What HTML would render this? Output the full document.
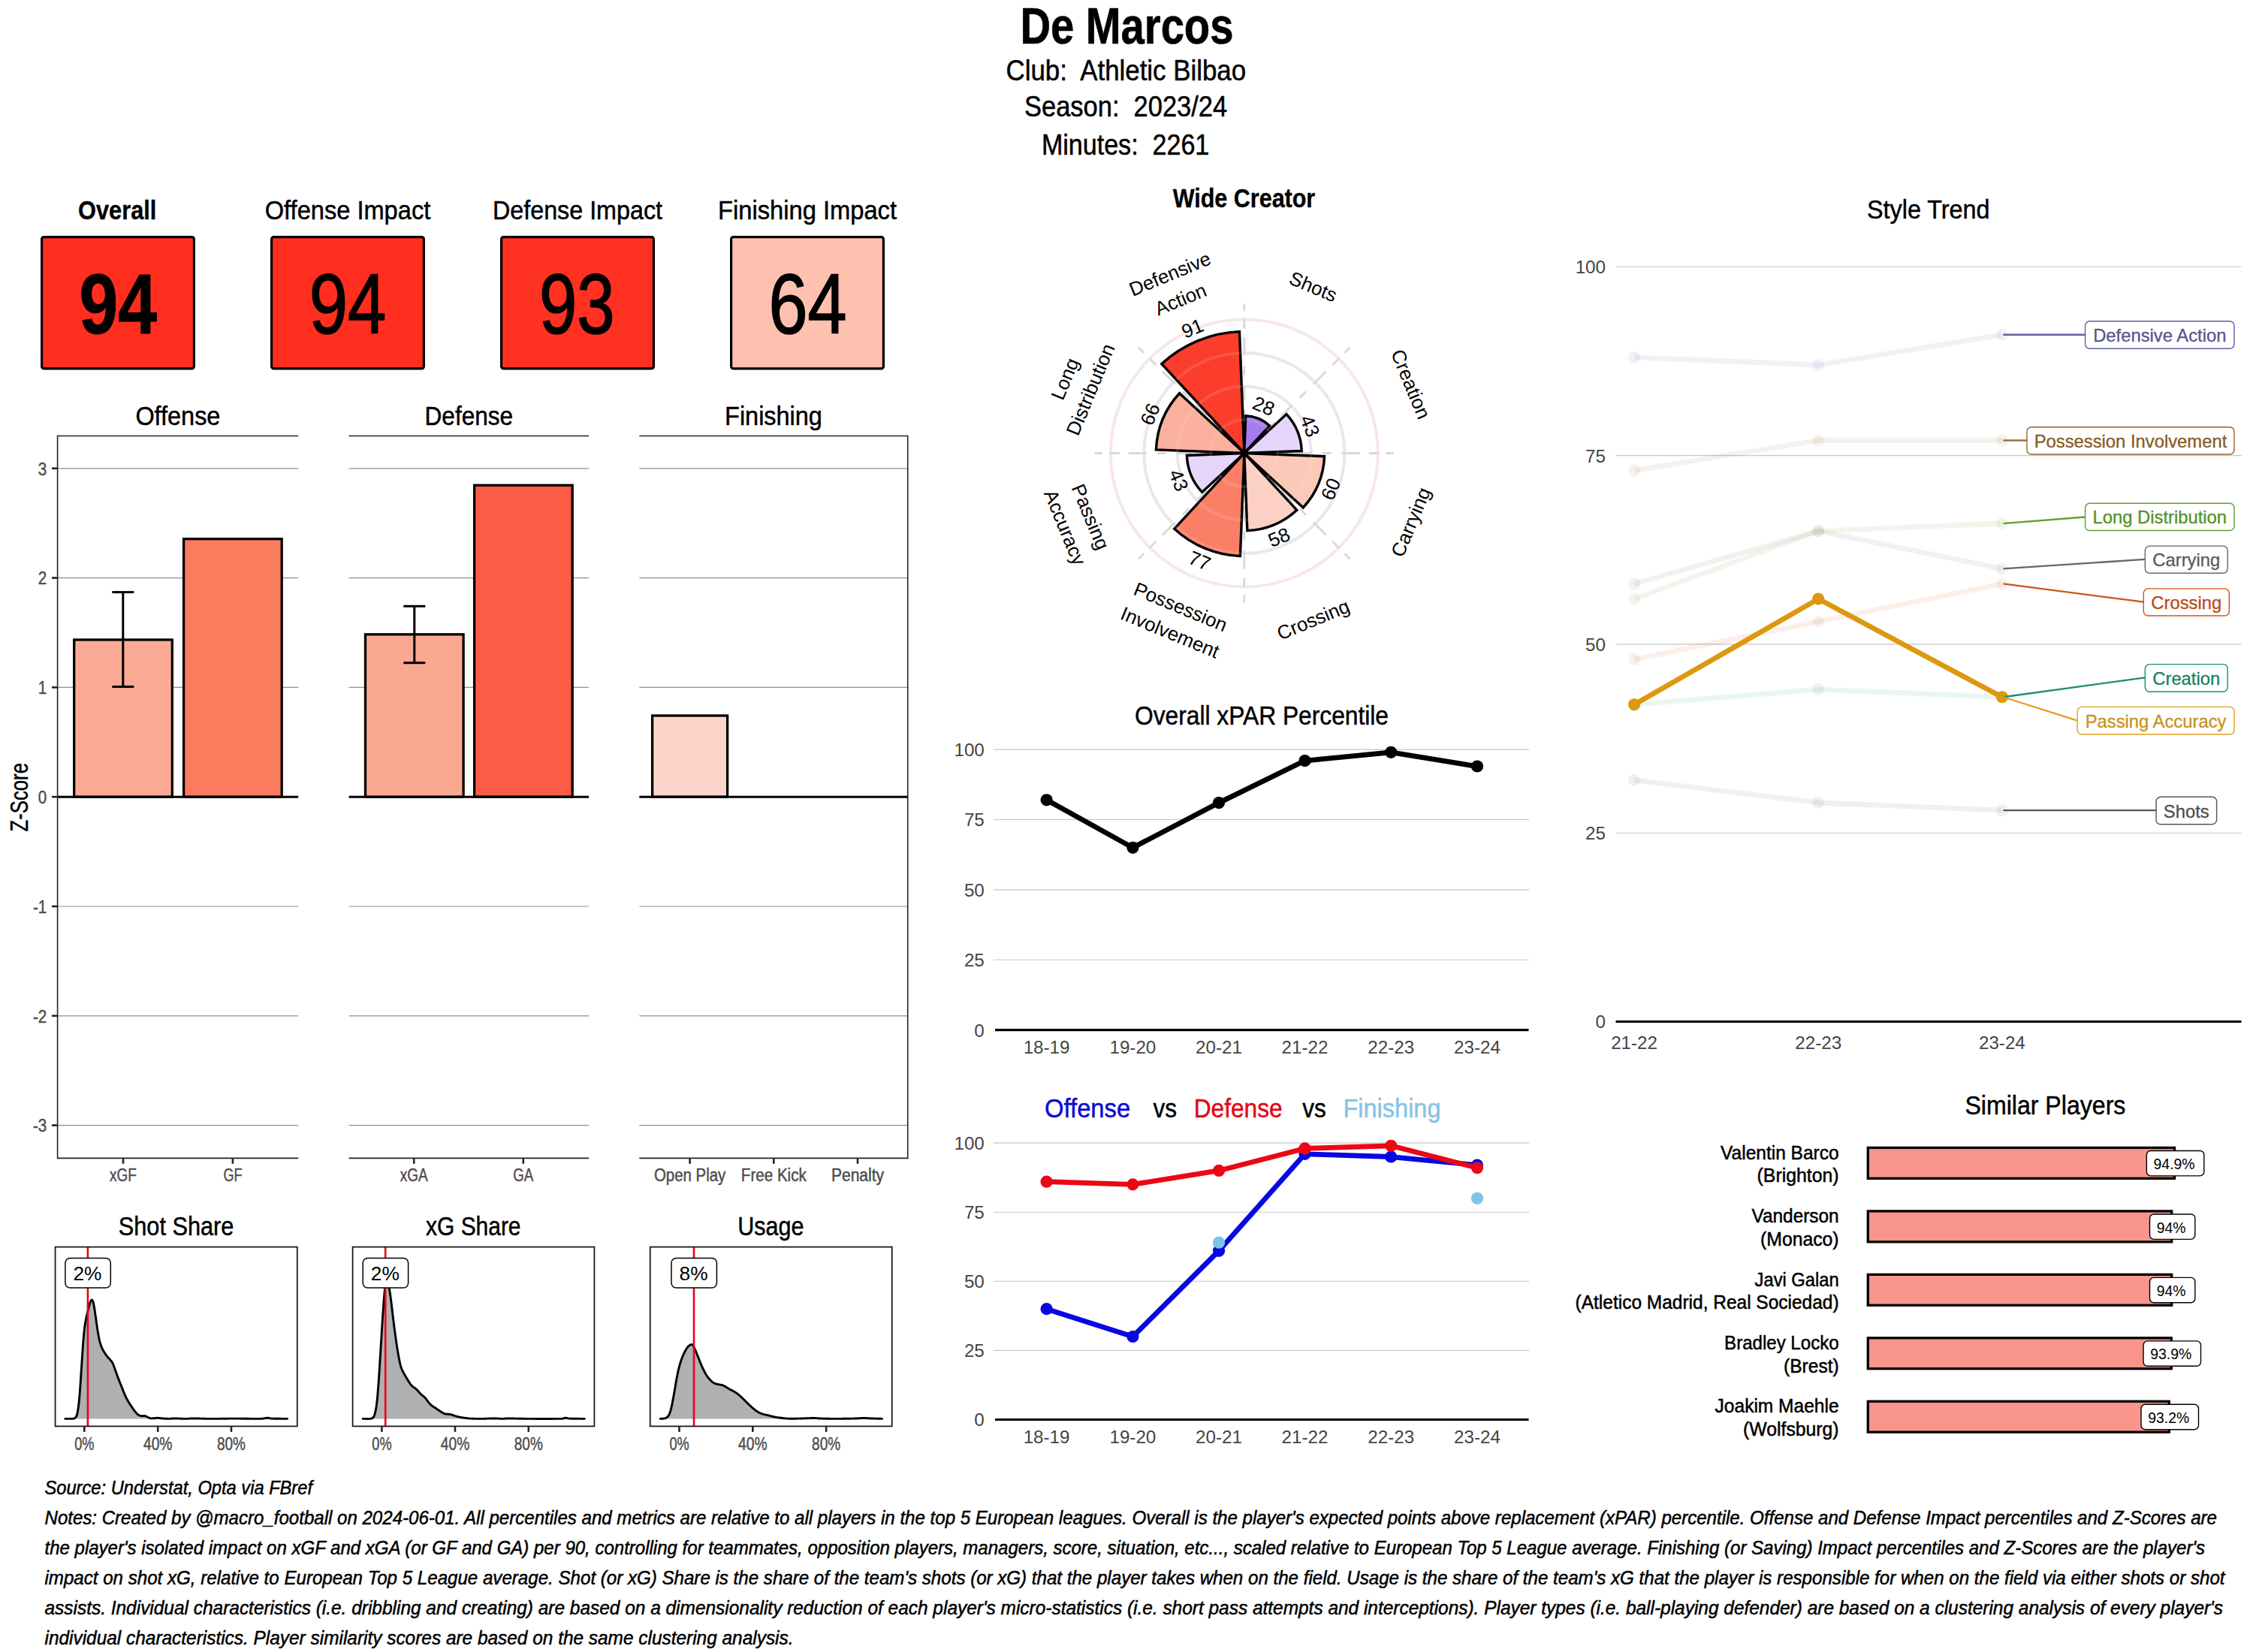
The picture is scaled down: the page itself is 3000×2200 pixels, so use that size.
<!DOCTYPE html>
<html><head><meta charset="utf-8"><title>De Marcos</title>
<style>html,body{margin:0;padding:0;background:#fff;overflow:hidden}svg{display:block}text{font-family:"Liberation Sans",sans-serif;white-space:pre}</style></head><body>
<svg width="3000" height="2200" viewBox="0 0 3000 2200" xml:space="preserve">
<rect width="3000" height="2200" fill="#fff"/>
<text x="1500.4" y="57.7" font-size="68" text-anchor="middle" font-weight="bold" textLength="284" lengthAdjust="spacingAndGlyphs" stroke="#000" stroke-width="0.68">De Marcos</text>
<text x="1499.3" y="106.5" font-size="38.2" text-anchor="middle" textLength="319.5" lengthAdjust="spacingAndGlyphs" stroke="#000" stroke-width="0.53">Club:  Athletic Bilbao</text>
<text x="1499.1" y="154.8" font-size="38.2" text-anchor="middle" textLength="270" lengthAdjust="spacingAndGlyphs" stroke="#000" stroke-width="0.53">Season:  2023/24</text>
<text x="1498.6" y="205.6" font-size="38.2" text-anchor="middle" textLength="223.4" lengthAdjust="spacingAndGlyphs" stroke="#000" stroke-width="0.53">Minutes:  2261</text>
<text x="156.2" y="292.1" font-size="35.8" text-anchor="middle" font-weight="bold" textLength="104.3" lengthAdjust="spacingAndGlyphs" stroke="#000" stroke-width="0.36">Overall</text>
<rect x="55.6" y="315.6" width="202.8" height="175.3" fill="#FF2E1E" stroke="#000" stroke-width="3.2" rx="3" />
<text x="157.3" y="443.7" font-size="114" text-anchor="middle" font-weight="bold" textLength="103.5" lengthAdjust="spacingAndGlyphs" stroke="#000" stroke-width="1">94</text>
<text x="463" y="292.1" font-size="35.8" text-anchor="middle" textLength="220.5" lengthAdjust="spacingAndGlyphs" stroke="#000" stroke-width="0.5">Offense Impact</text>
<rect x="361.6" y="315.6" width="202.8" height="175.3" fill="#FF2E1E" stroke="#000" stroke-width="3.2" rx="3" />
<text x="463" y="443.7" font-size="114" text-anchor="middle" textLength="102.5" lengthAdjust="spacingAndGlyphs" stroke="#000" stroke-width="1.7">94</text>
<text x="769" y="292.1" font-size="35.8" text-anchor="middle" textLength="226" lengthAdjust="spacingAndGlyphs" stroke="#000" stroke-width="0.5">Defense Impact</text>
<rect x="667.6" y="315.6" width="202.8" height="175.3" fill="#FF3121" stroke="#000" stroke-width="3.2" rx="3" />
<text x="768.2" y="443.7" font-size="114" text-anchor="middle" textLength="100.5" lengthAdjust="spacingAndGlyphs" stroke="#000" stroke-width="1.7">93</text>
<text x="1075" y="292.1" font-size="35.8" text-anchor="middle" textLength="238" lengthAdjust="spacingAndGlyphs" stroke="#000" stroke-width="0.5">Finishing Impact</text>
<rect x="973.6" y="315.6" width="202.8" height="175.3" fill="#FEC1AF" stroke="#000" stroke-width="3.2" rx="3" />
<text x="1075.6" y="443.7" font-size="114" text-anchor="middle" textLength="104" lengthAdjust="spacingAndGlyphs" stroke="#000" stroke-width="1.7">64</text>
<line x1="76.6" y1="623.8" x2="397.2" y2="623.8" stroke="#909090" stroke-width="1.15" />
<line x1="76.6" y1="769.6" x2="397.2" y2="769.6" stroke="#909090" stroke-width="1.15" />
<line x1="76.6" y1="915.4" x2="397.2" y2="915.4" stroke="#909090" stroke-width="1.15" />
<line x1="76.6" y1="1207" x2="397.2" y2="1207" stroke="#909090" stroke-width="1.15" />
<line x1="76.6" y1="1352.8" x2="397.2" y2="1352.8" stroke="#909090" stroke-width="1.15" />
<line x1="76.6" y1="1498.6" x2="397.2" y2="1498.6" stroke="#909090" stroke-width="1.15" />
<text x="236.9" y="565.6" font-size="35.8" text-anchor="middle" textLength="113" lengthAdjust="spacingAndGlyphs" stroke="#000" stroke-width="0.5">Offense</text>
<line x1="464.6" y1="623.8" x2="784.1" y2="623.8" stroke="#909090" stroke-width="1.15" />
<line x1="464.6" y1="769.6" x2="784.1" y2="769.6" stroke="#909090" stroke-width="1.15" />
<line x1="464.6" y1="915.4" x2="784.1" y2="915.4" stroke="#909090" stroke-width="1.15" />
<line x1="464.6" y1="1207" x2="784.1" y2="1207" stroke="#909090" stroke-width="1.15" />
<line x1="464.6" y1="1352.8" x2="784.1" y2="1352.8" stroke="#909090" stroke-width="1.15" />
<line x1="464.6" y1="1498.6" x2="784.1" y2="1498.6" stroke="#909090" stroke-width="1.15" />
<text x="624.35" y="565.6" font-size="35.8" text-anchor="middle" textLength="117.5" lengthAdjust="spacingAndGlyphs" stroke="#000" stroke-width="0.5">Defense</text>
<line x1="851.3" y1="623.8" x2="1208.7" y2="623.8" stroke="#909090" stroke-width="1.15" />
<line x1="851.3" y1="769.6" x2="1208.7" y2="769.6" stroke="#909090" stroke-width="1.15" />
<line x1="851.3" y1="915.4" x2="1208.7" y2="915.4" stroke="#909090" stroke-width="1.15" />
<line x1="851.3" y1="1207" x2="1208.7" y2="1207" stroke="#909090" stroke-width="1.15" />
<line x1="851.3" y1="1352.8" x2="1208.7" y2="1352.8" stroke="#909090" stroke-width="1.15" />
<line x1="851.3" y1="1498.6" x2="1208.7" y2="1498.6" stroke="#909090" stroke-width="1.15" />
<text x="1030" y="565.6" font-size="35.8" text-anchor="middle" textLength="129.8" lengthAdjust="spacingAndGlyphs" stroke="#000" stroke-width="0.5">Finishing</text>
<rect x="98.7" y="851.98" width="130.6" height="209.22" fill="#FBAA96" stroke="#000" stroke-width="3.3"/>
<rect x="244.6" y="717.7" width="130.6" height="343.5" fill="#FB7B5F" stroke="#000" stroke-width="3.3"/>
<rect x="486.5" y="844.83" width="130.6" height="216.37" fill="#FBA892" stroke="#000" stroke-width="3.3"/>
<rect x="631.6" y="646.25" width="130.6" height="414.95" fill="#FC5B45" stroke="#000" stroke-width="3.3"/>
<rect x="868.6" y="953.02" width="100" height="108.18" fill="#FCD4C9" stroke="#000" stroke-width="3.3"/>
<line x1="76.6" y1="1061.2" x2="397.2" y2="1061.2" stroke="#000" stroke-width="3" />
<line x1="464.6" y1="1061.2" x2="784.1" y2="1061.2" stroke="#000" stroke-width="3" />
<line x1="851.3" y1="1061.2" x2="1208.7" y2="1061.2" stroke="#000" stroke-width="3" />
<line x1="163.8" y1="788.6" x2="163.8" y2="914.5" stroke="#000" stroke-width="3" />
<line x1="149.3" y1="788.6" x2="178.3" y2="788.6" stroke="#000" stroke-width="3" />
<line x1="149.3" y1="914.5" x2="178.3" y2="914.5" stroke="#000" stroke-width="3" />
<line x1="551.8" y1="807.3" x2="551.8" y2="882.7" stroke="#000" stroke-width="3" />
<line x1="537.3" y1="807.3" x2="566.3" y2="807.3" stroke="#000" stroke-width="3" />
<line x1="537.3" y1="882.7" x2="566.3" y2="882.7" stroke="#000" stroke-width="3" />
<line x1="76.6" y1="580.5" x2="397.2" y2="580.5" stroke="#222" stroke-width="1.7" />
<line x1="76.6" y1="1542.3" x2="397.2" y2="1542.3" stroke="#222" stroke-width="1.7" />
<line x1="464.6" y1="580.5" x2="784.1" y2="580.5" stroke="#222" stroke-width="1.7" />
<line x1="464.6" y1="1542.3" x2="784.1" y2="1542.3" stroke="#222" stroke-width="1.7" />
<line x1="851.3" y1="580.5" x2="1208.7" y2="580.5" stroke="#222" stroke-width="1.7" />
<line x1="851.3" y1="1542.3" x2="1208.7" y2="1542.3" stroke="#222" stroke-width="1.7" />
<line x1="76.6" y1="579.65" x2="76.6" y2="1543.15" stroke="#222" stroke-width="1.6" />
<line x1="1208.7" y1="579.65" x2="1208.7" y2="1543.15" stroke="#222" stroke-width="1.6" />
<line x1="69" y1="623.8" x2="76.6" y2="623.8" stroke="#222" stroke-width="2.6" />
<text x="62.3" y="632.6" font-size="24" text-anchor="end" fill="#4D4D4D" textLength="11.48" lengthAdjust="spacingAndGlyphs" stroke="#4D4D4D" stroke-width="0.48">3</text>
<line x1="69" y1="769.6" x2="76.6" y2="769.6" stroke="#222" stroke-width="2.6" />
<text x="62.3" y="778.4" font-size="24" text-anchor="end" fill="#4D4D4D" textLength="11.48" lengthAdjust="spacingAndGlyphs" stroke="#4D4D4D" stroke-width="0.48">2</text>
<line x1="69" y1="915.4" x2="76.6" y2="915.4" stroke="#222" stroke-width="2.6" />
<text x="62.3" y="924.2" font-size="24" text-anchor="end" fill="#4D4D4D" textLength="11.48" lengthAdjust="spacingAndGlyphs" stroke="#4D4D4D" stroke-width="0.48">1</text>
<line x1="69" y1="1061.2" x2="76.6" y2="1061.2" stroke="#222" stroke-width="2.6" />
<text x="62.3" y="1070" font-size="24" text-anchor="end" fill="#4D4D4D" textLength="11.48" lengthAdjust="spacingAndGlyphs" stroke="#4D4D4D" stroke-width="0.48">0</text>
<line x1="69" y1="1207" x2="76.6" y2="1207" stroke="#222" stroke-width="2.6" />
<text x="62.3" y="1215.8" font-size="24" text-anchor="end" fill="#4D4D4D" textLength="18.35" lengthAdjust="spacingAndGlyphs" stroke="#4D4D4D" stroke-width="0.48">-1</text>
<line x1="69" y1="1352.8" x2="76.6" y2="1352.8" stroke="#222" stroke-width="2.6" />
<text x="62.3" y="1361.6" font-size="24" text-anchor="end" fill="#4D4D4D" textLength="18.35" lengthAdjust="spacingAndGlyphs" stroke="#4D4D4D" stroke-width="0.48">-2</text>
<line x1="69" y1="1498.6" x2="76.6" y2="1498.6" stroke="#222" stroke-width="2.6" />
<text x="62.3" y="1507.4" font-size="24" text-anchor="end" fill="#4D4D4D" textLength="18.35" lengthAdjust="spacingAndGlyphs" stroke="#4D4D4D" stroke-width="0.48">-3</text>
<line x1="164" y1="1542.3" x2="164" y2="1549.8" stroke="#222" stroke-width="2.6" />
<text x="164" y="1573.4" font-size="23.3" text-anchor="middle" fill="#4D4D4D" textLength="35.8" lengthAdjust="spacingAndGlyphs" stroke="#4D4D4D" stroke-width="0.47">xGF</text>
<line x1="309.9" y1="1542.3" x2="309.9" y2="1549.8" stroke="#222" stroke-width="2.6" />
<text x="309.9" y="1573.4" font-size="23.3" text-anchor="middle" fill="#4D4D4D" textLength="25" lengthAdjust="spacingAndGlyphs" stroke="#4D4D4D" stroke-width="0.47">GF</text>
<line x1="551.2" y1="1542.3" x2="551.2" y2="1549.8" stroke="#222" stroke-width="2.6" />
<text x="551.2" y="1573.4" font-size="23.3" text-anchor="middle" fill="#4D4D4D" textLength="37" lengthAdjust="spacingAndGlyphs" stroke="#4D4D4D" stroke-width="0.47">xGA</text>
<line x1="696.8" y1="1542.3" x2="696.8" y2="1549.8" stroke="#222" stroke-width="2.6" />
<text x="696.8" y="1573.4" font-size="23.3" text-anchor="middle" fill="#4D4D4D" textLength="27" lengthAdjust="spacingAndGlyphs" stroke="#4D4D4D" stroke-width="0.47">GA</text>
<line x1="918.6" y1="1542.3" x2="918.6" y2="1549.8" stroke="#222" stroke-width="2.6" />
<text x="918.6" y="1573.4" font-size="23.3" text-anchor="middle" fill="#4D4D4D" textLength="95.2" lengthAdjust="spacingAndGlyphs" stroke="#4D4D4D" stroke-width="0.47">Open Play</text>
<line x1="1030.3" y1="1542.3" x2="1030.3" y2="1549.8" stroke="#222" stroke-width="2.6" />
<text x="1030.3" y="1573.4" font-size="23.3" text-anchor="middle" fill="#4D4D4D" textLength="87" lengthAdjust="spacingAndGlyphs" stroke="#4D4D4D" stroke-width="0.47">Free Kick</text>
<line x1="1142" y1="1542.3" x2="1142" y2="1549.8" stroke="#222" stroke-width="2.6" />
<text x="1142" y="1573.4" font-size="23.3" text-anchor="middle" fill="#4D4D4D" textLength="70.2" lengthAdjust="spacingAndGlyphs" stroke="#4D4D4D" stroke-width="0.47">Penalty</text>
<text x="36.8" y="1061.8" font-size="32.4" text-anchor="middle" textLength="91.5" lengthAdjust="spacingAndGlyphs" stroke="#000" stroke-width="0.45" transform="rotate(-90 36.8 1061.8)">Z-Score</text>
<g transform="translate(0 0.7)">
<path d="M86.84 1888.67 L87.85 1888.68 L89.29 1888.7 L90.97 1888.71 L92.7 1888.72 L94.29 1888.71 L95.56 1888.67 L96.48 1888.63 L97.2 1888.59 L97.79 1888.53 L98.29 1888.44 L98.76 1888.27 L99.26 1888.02 L99.77 1887.7 L100.24 1887.33 L100.69 1886.9 L101.11 1886.38 L101.5 1885.74 L101.87 1884.97 L102.21 1884.08 L102.52 1883.1 L102.8 1882 L103.07 1880.76 L103.34 1879.36 L103.62 1877.78 L103.91 1876.05 L104.2 1874.22 L104.49 1872.22 L104.78 1870.01 L105.07 1867.52 L105.36 1864.71 L105.65 1861.5 L105.94 1857.93 L106.23 1854.08 L106.52 1850.06 L106.81 1845.95 L107.1 1841.83 L107.39 1837.66 L107.68 1833.36 L107.97 1828.96 L108.26 1824.52 L108.55 1820.08 L108.85 1815.69 L109.14 1811.25 L109.43 1806.73 L109.72 1802.21 L110.01 1797.77 L110.3 1793.52 L110.59 1789.54 L110.87 1785.83 L111.15 1782.32 L111.43 1778.99 L111.72 1775.83 L112.02 1772.81 L112.33 1769.93 L112.66 1767.23 L113 1764.73 L113.35 1762.38 L113.72 1760.13 L114.1 1757.94 L114.51 1755.77 L114.95 1753.62 L115.42 1751.51 L115.91 1749.47 L116.41 1747.49 L116.89 1745.6 L117.34 1743.79 L117.77 1742.04 L118.2 1740.33 L118.61 1738.7 L119 1737.18 L119.38 1735.82 L119.74 1734.64 L120.07 1733.67 L120.38 1732.87 L120.68 1732.23 L120.96 1731.71 L121.22 1731.29 L121.48 1730.94 L121.72 1730.65 L121.93 1730.44 L122.14 1730.32 L122.34 1730.32 L122.55 1730.45 L122.79 1730.72 L123.05 1731.08 L123.32 1731.51 L123.61 1732.07 L123.9 1732.81 L124.21 1733.79 L124.53 1735.08 L124.86 1736.69 L125.21 1738.59 L125.57 1740.73 L125.94 1743.06 L126.32 1745.55 L126.71 1748.15 L127.12 1750.96 L127.55 1754.04 L127.99 1757.27 L128.44 1760.53 L128.88 1763.71 L129.32 1766.67 L129.76 1769.47 L130.2 1772.21 L130.63 1774.86 L131.07 1777.39 L131.5 1779.75 L131.94 1781.92 L132.36 1783.84 L132.78 1785.55 L133.19 1787.09 L133.62 1788.53 L134.07 1789.91 L134.55 1791.29 L135.07 1792.64 L135.62 1793.93 L136.19 1795.17 L136.78 1796.36 L137.4 1797.53 L138.04 1798.69 L138.72 1799.85 L139.43 1800.99 L140.16 1802.11 L140.91 1803.2 L141.66 1804.24 L142.4 1805.23 L143.14 1806.16 L143.89 1807.04 L144.64 1807.87 L145.38 1808.67 L146.09 1809.46 L146.75 1810.24 L147.36 1810.95 L147.92 1811.58 L148.46 1812.19 L148.97 1812.85 L149.49 1813.63 L150.02 1814.6 L150.55 1815.76 L151.07 1817.06 L151.59 1818.48 L152.12 1820 L152.68 1821.62 L153.29 1823.31 L153.95 1825.13 L154.66 1827.1 L155.4 1829.17 L156.15 1831.26 L156.91 1833.32 L157.65 1835.29 L158.38 1837.19 L159.12 1839.05 L159.85 1840.88 L160.58 1842.68 L161.3 1844.45 L162 1846.19 L162.69 1847.91 L163.35 1849.62 L164.01 1851.29 L164.65 1852.93 L165.29 1854.5 L165.93 1855.99 L166.54 1857.38 L167.11 1858.65 L167.68 1859.87 L168.27 1861.07 L168.91 1862.31 L169.63 1863.62 L170.44 1865.02 L171.32 1866.48 L172.24 1867.97 L173.2 1869.47 L174.15 1870.93 L175.08 1872.33 L176 1873.71 L176.93 1875.09 L177.87 1876.44 L178.79 1877.73 L179.68 1878.91 L180.52 1879.96 L181.31 1880.86 L182.06 1881.64 L182.77 1882.33 L183.47 1882.92 L184.17 1883.43 L184.88 1883.88 L185.62 1884.24 L186.37 1884.5 L187.13 1884.68 L187.87 1884.81 L188.57 1884.89 L189.24 1884.97 L189.85 1884.99 L190.41 1884.94 L190.94 1884.84 L191.46 1884.76 L191.97 1884.71 L192.51 1884.75 L193.04 1884.87 L193.55 1885.05 L194.07 1885.27 L194.6 1885.52 L195.17 1885.78 L195.77 1886.06 L196.42 1886.37 L197.1 1886.73 L197.82 1887.12 L198.56 1887.48 L199.33 1887.8 L200.13 1888.02 L200.99 1888.14 L201.91 1888.18 L202.85 1888.17 L203.8 1888.12 L204.72 1888.07 L205.58 1888.02 L206.34 1887.96 L207.03 1887.86 L207.69 1887.76 L208.36 1887.66 L209.09 1887.6 L209.93 1887.58 L210.87 1887.63 L211.87 1887.73 L212.93 1887.85 L214.05 1887.99 L215.23 1888.13 L216.47 1888.24 L217.82 1888.33 L219.29 1888.43 L220.83 1888.52 L222.36 1888.6 L223.83 1888.65 L225.19 1888.67 L226.3 1888.64 L227.2 1888.56 L228.04 1888.45 L228.98 1888.35 L230.15 1888.27 L231.72 1888.24 L233.81 1888.27 L236.32 1888.35 L239.07 1888.45 L241.89 1888.56 L244.58 1888.64 L246.97 1888.67 L248.91 1888.64 L250.52 1888.56 L252.01 1888.45 L253.59 1888.35 L255.47 1888.27 L257.86 1888.24 L260.74 1888.27 L263.92 1888.34 L267.4 1888.44 L271.18 1888.54 L275.26 1888.63 L279.65 1888.67 L284.47 1888.67 L289.74 1888.63 L295.31 1888.58 L301.03 1888.52 L306.76 1888.47 L312.33 1888.45 L318.07 1888.47 L324.15 1888.53 L330.24 1888.59 L335.97 1888.65 L341.01 1888.68 L345.01 1888.67 L347.77 1888.61 L349.53 1888.51 L350.59 1888.39 L351.26 1888.25 L351.84 1888.12 L352.64 1888.02 L353.54 1887.92 L354.29 1887.81 L354.95 1887.7 L355.58 1887.62 L356.24 1887.58 L356.99 1887.58 L357.67 1887.66 L358.19 1887.8 L358.74 1887.98 L359.5 1888.16 L360.67 1888.33 L362.44 1888.45 L365.17 1888.53 L368.78 1888.58 L372.8 1888.62 L376.75 1888.64 L380.13 1888.65 L382.48 1888.67 L382.48 1888.7 L86.84 1888.7 Z" fill="#B0B0B0"/>
<path d="M86.84 1888.67 L87.85 1888.68 L89.29 1888.7 L90.97 1888.71 L92.7 1888.72 L94.29 1888.71 L95.56 1888.67 L96.48 1888.63 L97.2 1888.59 L97.79 1888.53 L98.29 1888.44 L98.76 1888.27 L99.26 1888.02 L99.77 1887.7 L100.24 1887.33 L100.69 1886.9 L101.11 1886.38 L101.5 1885.74 L101.87 1884.97 L102.21 1884.08 L102.52 1883.1 L102.8 1882 L103.07 1880.76 L103.34 1879.36 L103.62 1877.78 L103.91 1876.05 L104.2 1874.22 L104.49 1872.22 L104.78 1870.01 L105.07 1867.52 L105.36 1864.71 L105.65 1861.5 L105.94 1857.93 L106.23 1854.08 L106.52 1850.06 L106.81 1845.95 L107.1 1841.83 L107.39 1837.66 L107.68 1833.36 L107.97 1828.96 L108.26 1824.52 L108.55 1820.08 L108.85 1815.69 L109.14 1811.25 L109.43 1806.73 L109.72 1802.21 L110.01 1797.77 L110.3 1793.52 L110.59 1789.54 L110.87 1785.83 L111.15 1782.32 L111.43 1778.99 L111.72 1775.83 L112.02 1772.81 L112.33 1769.93 L112.66 1767.23 L113 1764.73 L113.35 1762.38 L113.72 1760.13 L114.1 1757.94 L114.51 1755.77 L114.95 1753.62 L115.42 1751.51 L115.91 1749.47 L116.41 1747.49 L116.89 1745.6 L117.34 1743.79 L117.77 1742.04 L118.2 1740.33 L118.61 1738.7 L119 1737.18 L119.38 1735.82 L119.74 1734.64 L120.07 1733.67 L120.38 1732.87 L120.68 1732.23 L120.96 1731.71 L121.22 1731.29 L121.48 1730.94 L121.72 1730.65 L121.93 1730.44 L122.14 1730.32 L122.34 1730.32 L122.55 1730.45 L122.79 1730.72 L123.05 1731.08 L123.32 1731.51 L123.61 1732.07 L123.9 1732.81 L124.21 1733.79 L124.53 1735.08 L124.86 1736.69 L125.21 1738.59 L125.57 1740.73 L125.94 1743.06 L126.32 1745.55 L126.71 1748.15 L127.12 1750.96 L127.55 1754.04 L127.99 1757.27 L128.44 1760.53 L128.88 1763.71 L129.32 1766.67 L129.76 1769.47 L130.2 1772.21 L130.63 1774.86 L131.07 1777.39 L131.5 1779.75 L131.94 1781.92 L132.36 1783.84 L132.78 1785.55 L133.19 1787.09 L133.62 1788.53 L134.07 1789.91 L134.55 1791.29 L135.07 1792.64 L135.62 1793.93 L136.19 1795.17 L136.78 1796.36 L137.4 1797.53 L138.04 1798.69 L138.72 1799.85 L139.43 1800.99 L140.16 1802.11 L140.91 1803.2 L141.66 1804.24 L142.4 1805.23 L143.14 1806.16 L143.89 1807.04 L144.64 1807.87 L145.38 1808.67 L146.09 1809.46 L146.75 1810.24 L147.36 1810.95 L147.92 1811.58 L148.46 1812.19 L148.97 1812.85 L149.49 1813.63 L150.02 1814.6 L150.55 1815.76 L151.07 1817.06 L151.59 1818.48 L152.12 1820 L152.68 1821.62 L153.29 1823.31 L153.95 1825.13 L154.66 1827.1 L155.4 1829.17 L156.15 1831.26 L156.91 1833.32 L157.65 1835.29 L158.38 1837.19 L159.12 1839.05 L159.85 1840.88 L160.58 1842.68 L161.3 1844.45 L162 1846.19 L162.69 1847.91 L163.35 1849.62 L164.01 1851.29 L164.65 1852.93 L165.29 1854.5 L165.93 1855.99 L166.54 1857.38 L167.11 1858.65 L167.68 1859.87 L168.27 1861.07 L168.91 1862.31 L169.63 1863.62 L170.44 1865.02 L171.32 1866.48 L172.24 1867.97 L173.2 1869.47 L174.15 1870.93 L175.08 1872.33 L176 1873.71 L176.93 1875.09 L177.87 1876.44 L178.79 1877.73 L179.68 1878.91 L180.52 1879.96 L181.31 1880.86 L182.06 1881.64 L182.77 1882.33 L183.47 1882.92 L184.17 1883.43 L184.88 1883.88 L185.62 1884.24 L186.37 1884.5 L187.13 1884.68 L187.87 1884.81 L188.57 1884.89 L189.24 1884.97 L189.85 1884.99 L190.41 1884.94 L190.94 1884.84 L191.46 1884.76 L191.97 1884.71 L192.51 1884.75 L193.04 1884.87 L193.55 1885.05 L194.07 1885.27 L194.6 1885.52 L195.17 1885.78 L195.77 1886.06 L196.42 1886.37 L197.1 1886.73 L197.82 1887.12 L198.56 1887.48 L199.33 1887.8 L200.13 1888.02 L200.99 1888.14 L201.91 1888.18 L202.85 1888.17 L203.8 1888.12 L204.72 1888.07 L205.58 1888.02 L206.34 1887.96 L207.03 1887.86 L207.69 1887.76 L208.36 1887.66 L209.09 1887.6 L209.93 1887.58 L210.87 1887.63 L211.87 1887.73 L212.93 1887.85 L214.05 1887.99 L215.23 1888.13 L216.47 1888.24 L217.82 1888.33 L219.29 1888.43 L220.83 1888.52 L222.36 1888.6 L223.83 1888.65 L225.19 1888.67 L226.3 1888.64 L227.2 1888.56 L228.04 1888.45 L228.98 1888.35 L230.15 1888.27 L231.72 1888.24 L233.81 1888.27 L236.32 1888.35 L239.07 1888.45 L241.89 1888.56 L244.58 1888.64 L246.97 1888.67 L248.91 1888.64 L250.52 1888.56 L252.01 1888.45 L253.59 1888.35 L255.47 1888.27 L257.86 1888.24 L260.74 1888.27 L263.92 1888.34 L267.4 1888.44 L271.18 1888.54 L275.26 1888.63 L279.65 1888.67 L284.47 1888.67 L289.74 1888.63 L295.31 1888.58 L301.03 1888.52 L306.76 1888.47 L312.33 1888.45 L318.07 1888.47 L324.15 1888.53 L330.24 1888.59 L335.97 1888.65 L341.01 1888.68 L345.01 1888.67 L347.77 1888.61 L349.53 1888.51 L350.59 1888.39 L351.26 1888.25 L351.84 1888.12 L352.64 1888.02 L353.54 1887.92 L354.29 1887.81 L354.95 1887.7 L355.58 1887.62 L356.24 1887.58 L356.99 1887.58 L357.67 1887.66 L358.19 1887.8 L358.74 1887.98 L359.5 1888.16 L360.67 1888.33 L362.44 1888.45 L365.17 1888.53 L368.78 1888.58 L372.8 1888.62 L376.75 1888.64 L380.13 1888.65 L382.48 1888.67" fill="none" stroke="#000" stroke-width="2.9" stroke-linejoin="round" stroke-linecap="round"/>
<line x1="116.9" y1="1659.9" x2="116.9" y2="1898.7" stroke="#EE0015" stroke-width="2.6" />
<rect x="73.6" y="1659.9" width="322.2" height="238.8" fill="none" stroke="#1A1A1A" stroke-width="1.8" rx="0" />
<line x1="112.3" y1="1898.7" x2="112.3" y2="1906.2" stroke="#222" stroke-width="2.6" />
<text x="112.3" y="1930.5" font-size="23.3" text-anchor="middle" fill="#4D4D4D" textLength="26.2" lengthAdjust="spacingAndGlyphs" stroke="#4D4D4D" stroke-width="0.47">0%</text>
<line x1="210.2" y1="1898.7" x2="210.2" y2="1906.2" stroke="#222" stroke-width="2.6" />
<text x="210.2" y="1930.5" font-size="23.3" text-anchor="middle" fill="#4D4D4D" textLength="38.5" lengthAdjust="spacingAndGlyphs" stroke="#4D4D4D" stroke-width="0.47">40%</text>
<line x1="308" y1="1898.7" x2="308" y2="1906.2" stroke="#222" stroke-width="2.6" />
<text x="308" y="1930.5" font-size="23.3" text-anchor="middle" fill="#4D4D4D" textLength="38" lengthAdjust="spacingAndGlyphs" stroke="#4D4D4D" stroke-width="0.47">80%</text>
<rect x="86.9" y="1674.7" width="60.4" height="39.7" fill="#fff" stroke="#000" stroke-width="1.5" rx="6.5" />
<text x="116.5" y="1704.3" font-size="26.3" text-anchor="middle">2%</text>
<text x="234.6" y="1644.5" font-size="35.6" text-anchor="middle" textLength="153.6" lengthAdjust="spacingAndGlyphs" stroke="#000" stroke-width="0.5">Shot Share</text>
<path d="M483.14 1888.67 L484.19 1888.68 L485.7 1888.71 L487.47 1888.74 L489.29 1888.75 L490.96 1888.73 L492.29 1888.67 L493.26 1888.58 L494.05 1888.47 L494.68 1888.33 L495.22 1888.15 L495.72 1887.9 L496.21 1887.58 L496.68 1887.21 L497.07 1886.82 L497.42 1886.36 L497.74 1885.81 L498.06 1885.14 L498.39 1884.31 L498.73 1883.35 L499.07 1882.26 L499.4 1881.05 L499.72 1879.71 L500.04 1878.26 L500.35 1876.69 L500.65 1875.04 L500.95 1873.34 L501.23 1871.51 L501.52 1869.51 L501.8 1867.26 L502.09 1864.71 L502.38 1861.82 L502.67 1858.65 L502.96 1855.24 L503.25 1851.63 L503.54 1847.87 L503.83 1844.01 L504.12 1839.99 L504.42 1835.78 L504.71 1831.41 L505 1826.94 L505.29 1822.41 L505.58 1817.86 L505.87 1813.27 L506.16 1808.59 L506.45 1803.84 L506.74 1799.06 L507.03 1794.29 L507.32 1789.54 L507.61 1784.8 L507.9 1780.02 L508.19 1775.25 L508.48 1770.5 L508.77 1765.81 L509.06 1761.22 L509.35 1756.66 L509.64 1752.1 L509.93 1747.6 L510.23 1743.23 L510.52 1739.03 L510.81 1735.08 L511.1 1731.3 L511.4 1727.65 L511.69 1724.18 L511.98 1720.96 L512.27 1718.03 L512.55 1715.47 L512.82 1713.31 L513.08 1711.53 L513.34 1710.05 L513.59 1708.8 L513.84 1707.73 L514.07 1706.75 L514.3 1705.9 L514.53 1705.24 L514.74 1704.74 L514.95 1704.4 L515.17 1704.2 L515.38 1704.14 L515.59 1704.2 L515.8 1704.4 L516.01 1704.74 L516.22 1705.24 L516.45 1705.9 L516.69 1706.75 L516.95 1707.78 L517.22 1708.96 L517.51 1710.32 L517.8 1711.85 L518.11 1713.57 L518.43 1715.47 L518.76 1717.56 L519.11 1719.83 L519.47 1722.28 L519.84 1724.91 L520.22 1727.72 L520.61 1730.72 L521.02 1733.98 L521.45 1737.54 L521.89 1741.27 L522.34 1745.08 L522.78 1748.86 L523.22 1752.51 L523.66 1756.04 L524.1 1759.57 L524.53 1763.06 L524.97 1766.51 L525.4 1769.89 L525.84 1773.2 L526.27 1776.45 L526.71 1779.66 L527.15 1782.8 L527.58 1785.87 L528.02 1788.85 L528.45 1791.72 L528.89 1794.49 L529.32 1797.17 L529.76 1799.75 L530.2 1802.25 L530.63 1804.66 L531.07 1806.97 L531.5 1809.21 L531.91 1811.37 L532.33 1813.44 L532.76 1815.4 L533.21 1817.25 L533.68 1818.95 L534.19 1820.5 L534.72 1821.88 L535.28 1823.15 L535.84 1824.33 L536.4 1825.46 L536.95 1826.58 L537.49 1827.67 L538.04 1828.69 L538.58 1829.66 L539.13 1830.6 L539.67 1831.53 L540.22 1832.46 L540.76 1833.4 L541.31 1834.33 L541.85 1835.24 L542.4 1836.14 L542.94 1837.03 L543.49 1837.91 L544.03 1838.79 L544.58 1839.68 L545.12 1840.55 L545.66 1841.39 L546.21 1842.19 L546.75 1842.92 L547.3 1843.58 L547.84 1844.18 L548.39 1844.73 L548.93 1845.24 L549.48 1845.73 L550.02 1846.19 L550.57 1846.6 L551.11 1846.95 L551.66 1847.28 L552.2 1847.6 L552.75 1847.95 L553.29 1848.37 L553.83 1848.84 L554.38 1849.36 L554.92 1849.9 L555.47 1850.47 L556.01 1851.05 L556.56 1851.63 L557.1 1852.24 L557.65 1852.87 L558.19 1853.51 L558.74 1854.15 L559.28 1854.77 L559.83 1855.34 L560.37 1855.86 L560.92 1856.35 L561.46 1856.81 L562 1857.26 L562.55 1857.71 L563.09 1858.17 L563.63 1858.61 L564.14 1859 L564.66 1859.4 L565.19 1859.83 L565.75 1860.35 L566.36 1861 L567.02 1861.82 L567.73 1862.79 L568.47 1863.85 L569.23 1864.92 L569.98 1865.96 L570.72 1866.88 L571.45 1867.72 L572.17 1868.51 L572.9 1869.25 L573.62 1869.96 L574.35 1870.62 L575.08 1871.24 L575.8 1871.8 L576.53 1872.29 L577.25 1872.74 L577.98 1873.17 L578.71 1873.61 L579.43 1874.07 L580.16 1874.57 L580.89 1875.08 L581.61 1875.6 L582.34 1876.12 L583.06 1876.63 L583.79 1877.12 L584.52 1877.62 L585.24 1878.11 L585.97 1878.59 L586.7 1879.07 L587.42 1879.52 L588.15 1879.96 L588.87 1880.38 L589.6 1880.8 L590.33 1881.2 L591.05 1881.56 L591.78 1881.88 L592.51 1882.14 L593.23 1882.31 L593.96 1882.4 L594.68 1882.45 L595.41 1882.47 L596.14 1882.51 L596.86 1882.57 L597.59 1882.66 L598.32 1882.74 L599.04 1882.83 L599.77 1882.93 L600.49 1883.06 L601.22 1883.22 L601.92 1883.43 L602.59 1883.66 L603.26 1883.92 L603.96 1884.19 L604.73 1884.47 L605.58 1884.75 L606.54 1885.03 L607.59 1885.34 L608.71 1885.65 L609.85 1885.95 L611 1886.24 L612.11 1886.49 L613.18 1886.71 L614.21 1886.91 L615.25 1887.09 L616.31 1887.26 L617.43 1887.42 L618.65 1887.58 L619.93 1887.75 L621.23 1887.91 L622.6 1888.07 L624.06 1888.22 L625.63 1888.35 L627.36 1888.45 L629.24 1888.53 L631.24 1888.6 L633.36 1888.64 L635.59 1888.67 L637.95 1888.68 L640.44 1888.67 L643.16 1888.63 L646.16 1888.54 L649.29 1888.44 L652.38 1888.34 L655.29 1888.27 L657.86 1888.24 L660.08 1888.27 L662.06 1888.35 L663.86 1888.45 L665.53 1888.56 L667.14 1888.64 L668.76 1888.67 L670.16 1888.64 L671.26 1888.56 L672.3 1888.45 L673.52 1888.35 L675.16 1888.27 L677.47 1888.24 L680.36 1888.26 L683.61 1888.33 L687.28 1888.43 L691.43 1888.53 L696.13 1888.61 L701.44 1888.67 L708.01 1888.7 L715.92 1888.73 L724.38 1888.74 L732.58 1888.74 L739.73 1888.71 L745.01 1888.67 L748.15 1888.6 L749.73 1888.49 L750.25 1888.37 L750.22 1888.24 L750.12 1888.12 L750.46 1888.02 L751.1 1887.92 L751.63 1887.81 L752.09 1887.7 L752.56 1887.62 L753.08 1887.58 L753.73 1887.58 L754.35 1887.66 L754.87 1887.8 L755.45 1887.98 L756.26 1888.16 L757.44 1888.33 L759.17 1888.45 L761.8 1888.53 L765.26 1888.58 L769.1 1888.62 L772.87 1888.64 L776.1 1888.65 L778.34 1888.67 L778.34 1888.7 L483.14 1888.7 Z" fill="#B0B0B0"/>
<path d="M483.14 1888.67 L484.19 1888.68 L485.7 1888.71 L487.47 1888.74 L489.29 1888.75 L490.96 1888.73 L492.29 1888.67 L493.26 1888.58 L494.05 1888.47 L494.68 1888.33 L495.22 1888.15 L495.72 1887.9 L496.21 1887.58 L496.68 1887.21 L497.07 1886.82 L497.42 1886.36 L497.74 1885.81 L498.06 1885.14 L498.39 1884.31 L498.73 1883.35 L499.07 1882.26 L499.4 1881.05 L499.72 1879.71 L500.04 1878.26 L500.35 1876.69 L500.65 1875.04 L500.95 1873.34 L501.23 1871.51 L501.52 1869.51 L501.8 1867.26 L502.09 1864.71 L502.38 1861.82 L502.67 1858.65 L502.96 1855.24 L503.25 1851.63 L503.54 1847.87 L503.83 1844.01 L504.12 1839.99 L504.42 1835.78 L504.71 1831.41 L505 1826.94 L505.29 1822.41 L505.58 1817.86 L505.87 1813.27 L506.16 1808.59 L506.45 1803.84 L506.74 1799.06 L507.03 1794.29 L507.32 1789.54 L507.61 1784.8 L507.9 1780.02 L508.19 1775.25 L508.48 1770.5 L508.77 1765.81 L509.06 1761.22 L509.35 1756.66 L509.64 1752.1 L509.93 1747.6 L510.23 1743.23 L510.52 1739.03 L510.81 1735.08 L511.1 1731.3 L511.4 1727.65 L511.69 1724.18 L511.98 1720.96 L512.27 1718.03 L512.55 1715.47 L512.82 1713.31 L513.08 1711.53 L513.34 1710.05 L513.59 1708.8 L513.84 1707.73 L514.07 1706.75 L514.3 1705.9 L514.53 1705.24 L514.74 1704.74 L514.95 1704.4 L515.17 1704.2 L515.38 1704.14 L515.59 1704.2 L515.8 1704.4 L516.01 1704.74 L516.22 1705.24 L516.45 1705.9 L516.69 1706.75 L516.95 1707.78 L517.22 1708.96 L517.51 1710.32 L517.8 1711.85 L518.11 1713.57 L518.43 1715.47 L518.76 1717.56 L519.11 1719.83 L519.47 1722.28 L519.84 1724.91 L520.22 1727.72 L520.61 1730.72 L521.02 1733.98 L521.45 1737.54 L521.89 1741.27 L522.34 1745.08 L522.78 1748.86 L523.22 1752.51 L523.66 1756.04 L524.1 1759.57 L524.53 1763.06 L524.97 1766.51 L525.4 1769.89 L525.84 1773.2 L526.27 1776.45 L526.71 1779.66 L527.15 1782.8 L527.58 1785.87 L528.02 1788.85 L528.45 1791.72 L528.89 1794.49 L529.32 1797.17 L529.76 1799.75 L530.2 1802.25 L530.63 1804.66 L531.07 1806.97 L531.5 1809.21 L531.91 1811.37 L532.33 1813.44 L532.76 1815.4 L533.21 1817.25 L533.68 1818.95 L534.19 1820.5 L534.72 1821.88 L535.28 1823.15 L535.84 1824.33 L536.4 1825.46 L536.95 1826.58 L537.49 1827.67 L538.04 1828.69 L538.58 1829.66 L539.13 1830.6 L539.67 1831.53 L540.22 1832.46 L540.76 1833.4 L541.31 1834.33 L541.85 1835.24 L542.4 1836.14 L542.94 1837.03 L543.49 1837.91 L544.03 1838.79 L544.58 1839.68 L545.12 1840.55 L545.66 1841.39 L546.21 1842.19 L546.75 1842.92 L547.3 1843.58 L547.84 1844.18 L548.39 1844.73 L548.93 1845.24 L549.48 1845.73 L550.02 1846.19 L550.57 1846.6 L551.11 1846.95 L551.66 1847.28 L552.2 1847.6 L552.75 1847.95 L553.29 1848.37 L553.83 1848.84 L554.38 1849.36 L554.92 1849.9 L555.47 1850.47 L556.01 1851.05 L556.56 1851.63 L557.1 1852.24 L557.65 1852.87 L558.19 1853.51 L558.74 1854.15 L559.28 1854.77 L559.83 1855.34 L560.37 1855.86 L560.92 1856.35 L561.46 1856.81 L562 1857.26 L562.55 1857.71 L563.09 1858.17 L563.63 1858.61 L564.14 1859 L564.66 1859.4 L565.19 1859.83 L565.75 1860.35 L566.36 1861 L567.02 1861.82 L567.73 1862.79 L568.47 1863.85 L569.23 1864.92 L569.98 1865.96 L570.72 1866.88 L571.45 1867.72 L572.17 1868.51 L572.9 1869.25 L573.62 1869.96 L574.35 1870.62 L575.08 1871.24 L575.8 1871.8 L576.53 1872.29 L577.25 1872.74 L577.98 1873.17 L578.71 1873.61 L579.43 1874.07 L580.16 1874.57 L580.89 1875.08 L581.61 1875.6 L582.34 1876.12 L583.06 1876.63 L583.79 1877.12 L584.52 1877.62 L585.24 1878.11 L585.97 1878.59 L586.7 1879.07 L587.42 1879.52 L588.15 1879.96 L588.87 1880.38 L589.6 1880.8 L590.33 1881.2 L591.05 1881.56 L591.78 1881.88 L592.51 1882.14 L593.23 1882.31 L593.96 1882.4 L594.68 1882.45 L595.41 1882.47 L596.14 1882.51 L596.86 1882.57 L597.59 1882.66 L598.32 1882.74 L599.04 1882.83 L599.77 1882.93 L600.49 1883.06 L601.22 1883.22 L601.92 1883.43 L602.59 1883.66 L603.26 1883.92 L603.96 1884.19 L604.73 1884.47 L605.58 1884.75 L606.54 1885.03 L607.59 1885.34 L608.71 1885.65 L609.85 1885.95 L611 1886.24 L612.11 1886.49 L613.18 1886.71 L614.21 1886.91 L615.25 1887.09 L616.31 1887.26 L617.43 1887.42 L618.65 1887.58 L619.93 1887.75 L621.23 1887.91 L622.6 1888.07 L624.06 1888.22 L625.63 1888.35 L627.36 1888.45 L629.24 1888.53 L631.24 1888.6 L633.36 1888.64 L635.59 1888.67 L637.95 1888.68 L640.44 1888.67 L643.16 1888.63 L646.16 1888.54 L649.29 1888.44 L652.38 1888.34 L655.29 1888.27 L657.86 1888.24 L660.08 1888.27 L662.06 1888.35 L663.86 1888.45 L665.53 1888.56 L667.14 1888.64 L668.76 1888.67 L670.16 1888.64 L671.26 1888.56 L672.3 1888.45 L673.52 1888.35 L675.16 1888.27 L677.47 1888.24 L680.36 1888.26 L683.61 1888.33 L687.28 1888.43 L691.43 1888.53 L696.13 1888.61 L701.44 1888.67 L708.01 1888.7 L715.92 1888.73 L724.38 1888.74 L732.58 1888.74 L739.73 1888.71 L745.01 1888.67 L748.15 1888.6 L749.73 1888.49 L750.25 1888.37 L750.22 1888.24 L750.12 1888.12 L750.46 1888.02 L751.1 1887.92 L751.63 1887.81 L752.09 1887.7 L752.56 1887.62 L753.08 1887.58 L753.73 1887.58 L754.35 1887.66 L754.87 1887.8 L755.45 1887.98 L756.26 1888.16 L757.44 1888.33 L759.17 1888.45 L761.8 1888.53 L765.26 1888.58 L769.1 1888.62 L772.87 1888.64 L776.1 1888.65 L778.34 1888.67" fill="none" stroke="#000" stroke-width="2.9" stroke-linejoin="round" stroke-linecap="round"/>
<line x1="513.2" y1="1659.9" x2="513.2" y2="1898.7" stroke="#EE0015" stroke-width="2.6" />
<rect x="469.6" y="1659.9" width="321.8" height="238.8" fill="none" stroke="#1A1A1A" stroke-width="1.8" rx="0" />
<line x1="508.4" y1="1898.7" x2="508.4" y2="1906.2" stroke="#222" stroke-width="2.6" />
<text x="508.4" y="1930.5" font-size="23.3" text-anchor="middle" fill="#4D4D4D" textLength="26.2" lengthAdjust="spacingAndGlyphs" stroke="#4D4D4D" stroke-width="0.47">0%</text>
<line x1="606" y1="1898.7" x2="606" y2="1906.2" stroke="#222" stroke-width="2.6" />
<text x="606" y="1930.5" font-size="23.3" text-anchor="middle" fill="#4D4D4D" textLength="38.5" lengthAdjust="spacingAndGlyphs" stroke="#4D4D4D" stroke-width="0.47">40%</text>
<line x1="703.8" y1="1898.7" x2="703.8" y2="1906.2" stroke="#222" stroke-width="2.6" />
<text x="703.8" y="1930.5" font-size="23.3" text-anchor="middle" fill="#4D4D4D" textLength="38" lengthAdjust="spacingAndGlyphs" stroke="#4D4D4D" stroke-width="0.47">80%</text>
<rect x="483.2" y="1674.7" width="60.4" height="39.7" fill="#fff" stroke="#000" stroke-width="1.5" rx="6.5" />
<text x="512.8" y="1704.3" font-size="26.3" text-anchor="middle">2%</text>
<text x="630.3" y="1644.5" font-size="35.6" text-anchor="middle" textLength="126.4" lengthAdjust="spacingAndGlyphs" stroke="#000" stroke-width="0.5">xG Share</text>
<path d="M879.22 1888.67 L879.83 1888.64 L880.69 1888.61 L881.71 1888.56 L882.77 1888.49 L883.79 1888.39 L884.66 1888.24 L885.39 1888.05 L886.05 1887.85 L886.66 1887.61 L887.24 1887.32 L887.81 1886.95 L888.37 1886.49 L888.92 1885.97 L889.45 1885.39 L889.96 1884.75 L890.46 1884.01 L890.94 1883.14 L891.42 1882.14 L891.88 1880.96 L892.34 1879.63 L892.78 1878.19 L893.21 1876.65 L893.63 1875.05 L894.03 1873.42 L894.42 1871.74 L894.79 1869.99 L895.15 1868.18 L895.5 1866.32 L895.85 1864.43 L896.21 1862.53 L896.57 1860.61 L896.94 1858.65 L897.3 1856.67 L897.66 1854.66 L898.02 1852.62 L898.39 1850.54 L898.75 1848.43 L899.1 1846.27 L899.45 1844.08 L899.81 1841.87 L900.18 1839.66 L900.57 1837.47 L900.98 1835.26 L901.41 1832.99 L901.85 1830.73 L902.29 1828.52 L902.74 1826.39 L903.18 1824.4 L903.61 1822.57 L904.04 1820.85 L904.46 1819.23 L904.89 1817.66 L905.33 1816.13 L905.8 1814.6 L906.28 1813.06 L906.78 1811.53 L907.29 1810.04 L907.81 1808.59 L908.33 1807.2 L908.85 1805.88 L909.35 1804.65 L909.85 1803.5 L910.36 1802.41 L910.86 1801.36 L911.37 1800.35 L911.9 1799.35 L912.43 1798.35 L912.98 1797.35 L913.54 1796.39 L914.1 1795.48 L914.64 1794.64 L915.16 1793.9 L915.67 1793.26 L916.16 1792.7 L916.65 1792.21 L917.12 1791.79 L917.57 1791.41 L918 1791.07 L918.4 1790.77 L918.79 1790.53 L919.15 1790.33 L919.5 1790.18 L919.84 1790.06 L920.17 1789.98 L920.48 1789.9 L920.77 1789.84 L921.05 1789.81 L921.32 1789.85 L921.61 1789.97 L921.92 1790.2 L922.25 1790.53 L922.6 1790.96 L922.95 1791.48 L923.32 1792.07 L923.7 1792.73 L924.1 1793.46 L924.5 1794.27 L924.92 1795.17 L925.35 1796.13 L925.79 1797.16 L926.24 1798.23 L926.71 1799.35 L927.19 1800.5 L927.68 1801.72 L928.18 1802.98 L928.7 1804.28 L929.22 1805.62 L929.76 1806.97 L930.32 1808.37 L930.89 1809.84 L931.48 1811.33 L932.07 1812.82 L932.66 1814.28 L933.25 1815.69 L933.83 1817.03 L934.41 1818.35 L934.99 1819.64 L935.57 1820.89 L936.15 1822.12 L936.73 1823.31 L937.31 1824.48 L937.88 1825.61 L938.45 1826.72 L939.02 1827.79 L939.61 1828.83 L940.22 1829.85 L940.84 1830.83 L941.48 1831.78 L942.12 1832.71 L942.78 1833.6 L943.46 1834.46 L944.14 1835.29 L944.84 1836.11 L945.56 1836.9 L946.29 1837.66 L947.03 1838.38 L947.77 1839.05 L948.5 1839.65 L949.22 1840.18 L949.93 1840.64 L950.65 1841.05 L951.37 1841.42 L952.1 1841.75 L952.85 1842.05 L953.63 1842.31 L954.44 1842.52 L955.25 1842.69 L956.07 1842.84 L956.87 1842.98 L957.65 1843.14 L958.4 1843.28 L959.13 1843.4 L959.85 1843.5 L960.57 1843.63 L961.28 1843.79 L962 1844.01 L962.72 1844.28 L963.42 1844.6 L964.11 1844.95 L964.83 1845.33 L965.57 1845.75 L966.36 1846.19 L967.21 1846.67 L968.1 1847.21 L969.02 1847.78 L969.95 1848.36 L970.89 1848.92 L971.81 1849.46 L972.72 1849.94 L973.62 1850.4 L974.53 1850.84 L975.44 1851.3 L976.35 1851.77 L977.25 1852.29 L978.16 1852.84 L979.07 1853.42 L979.98 1854.02 L980.89 1854.64 L981.79 1855.3 L982.7 1855.99 L983.61 1856.72 L984.52 1857.48 L985.42 1858.28 L986.33 1859.1 L987.24 1859.94 L988.15 1860.78 L989.06 1861.66 L989.96 1862.56 L990.87 1863.48 L991.78 1864.41 L992.69 1865.33 L993.59 1866.23 L994.5 1867.12 L995.41 1868.01 L996.32 1868.89 L997.23 1869.76 L998.13 1870.62 L999.04 1871.46 L999.95 1872.3 L1000.86 1873.13 L1001.76 1873.95 L1002.67 1874.75 L1003.58 1875.52 L1004.49 1876.25 L1005.4 1876.95 L1006.3 1877.62 L1007.21 1878.25 L1008.12 1878.86 L1009.03 1879.43 L1009.93 1879.96 L1010.83 1880.44 L1011.71 1880.88 L1012.59 1881.29 L1013.49 1881.67 L1014.41 1882.02 L1015.38 1882.35 L1016.39 1882.65 L1017.44 1882.91 L1018.51 1883.14 L1019.62 1883.37 L1020.75 1883.61 L1021.92 1883.88 L1023.11 1884.18 L1024.34 1884.52 L1025.59 1884.86 L1026.88 1885.2 L1028.2 1885.53 L1029.54 1885.84 L1030.91 1886.12 L1032.29 1886.4 L1033.7 1886.66 L1035.15 1886.9 L1036.67 1887.14 L1038.26 1887.36 L1039.92 1887.58 L1041.65 1887.8 L1043.43 1888 L1045.28 1888.19 L1047.18 1888.34 L1049.15 1888.45 L1051.2 1888.52 L1053.35 1888.55 L1055.55 1888.55 L1057.78 1888.53 L1060.02 1888.49 L1062.22 1888.45 L1064.45 1888.4 L1066.74 1888.33 L1069.03 1888.25 L1071.26 1888.16 L1073.37 1888.08 L1075.29 1888.02 L1076.97 1887.96 L1078.44 1887.9 L1079.79 1887.84 L1081.1 1887.8 L1082.48 1887.78 L1084.01 1887.8 L1085.62 1887.86 L1087.24 1887.97 L1088.91 1888.1 L1090.71 1888.24 L1092.68 1888.36 L1094.9 1888.45 L1097.38 1888.52 L1100.07 1888.57 L1102.94 1888.62 L1105.96 1888.65 L1109.1 1888.66 L1112.33 1888.67 L1115.84 1888.66 L1119.67 1888.64 L1123.63 1888.6 L1127.5 1888.56 L1131.07 1888.51 L1134.12 1888.45 L1136.61 1888.39 L1138.72 1888.32 L1140.52 1888.24 L1142.11 1888.15 L1143.57 1888.08 L1145.01 1888.02 L1146.33 1887.96 L1147.43 1887.9 L1148.42 1887.85 L1149.37 1887.82 L1150.38 1887.8 L1151.55 1887.8 L1152.81 1887.83 L1154.09 1887.9 L1155.43 1887.98 L1156.87 1888.07 L1158.47 1888.16 L1160.26 1888.24 L1162.47 1888.31 L1165.1 1888.4 L1167.89 1888.48 L1170.55 1888.56 L1172.82 1888.62 L1174.42 1888.67 L1174.42 1888.7 L879.22 1888.7 Z" fill="#B0B0B0"/>
<path d="M879.22 1888.67 L879.83 1888.64 L880.69 1888.61 L881.71 1888.56 L882.77 1888.49 L883.79 1888.39 L884.66 1888.24 L885.39 1888.05 L886.05 1887.85 L886.66 1887.61 L887.24 1887.32 L887.81 1886.95 L888.37 1886.49 L888.92 1885.97 L889.45 1885.39 L889.96 1884.75 L890.46 1884.01 L890.94 1883.14 L891.42 1882.14 L891.88 1880.96 L892.34 1879.63 L892.78 1878.19 L893.21 1876.65 L893.63 1875.05 L894.03 1873.42 L894.42 1871.74 L894.79 1869.99 L895.15 1868.18 L895.5 1866.32 L895.85 1864.43 L896.21 1862.53 L896.57 1860.61 L896.94 1858.65 L897.3 1856.67 L897.66 1854.66 L898.02 1852.62 L898.39 1850.54 L898.75 1848.43 L899.1 1846.27 L899.45 1844.08 L899.81 1841.87 L900.18 1839.66 L900.57 1837.47 L900.98 1835.26 L901.41 1832.99 L901.85 1830.73 L902.29 1828.52 L902.74 1826.39 L903.18 1824.4 L903.61 1822.57 L904.04 1820.85 L904.46 1819.23 L904.89 1817.66 L905.33 1816.13 L905.8 1814.6 L906.28 1813.06 L906.78 1811.53 L907.29 1810.04 L907.81 1808.59 L908.33 1807.2 L908.85 1805.88 L909.35 1804.65 L909.85 1803.5 L910.36 1802.41 L910.86 1801.36 L911.37 1800.35 L911.9 1799.35 L912.43 1798.35 L912.98 1797.35 L913.54 1796.39 L914.1 1795.48 L914.64 1794.64 L915.16 1793.9 L915.67 1793.26 L916.16 1792.7 L916.65 1792.21 L917.12 1791.79 L917.57 1791.41 L918 1791.07 L918.4 1790.77 L918.79 1790.53 L919.15 1790.33 L919.5 1790.18 L919.84 1790.06 L920.17 1789.98 L920.48 1789.9 L920.77 1789.84 L921.05 1789.81 L921.32 1789.85 L921.61 1789.97 L921.92 1790.2 L922.25 1790.53 L922.6 1790.96 L922.95 1791.48 L923.32 1792.07 L923.7 1792.73 L924.1 1793.46 L924.5 1794.27 L924.92 1795.17 L925.35 1796.13 L925.79 1797.16 L926.24 1798.23 L926.71 1799.35 L927.19 1800.5 L927.68 1801.72 L928.18 1802.98 L928.7 1804.28 L929.22 1805.62 L929.76 1806.97 L930.32 1808.37 L930.89 1809.84 L931.48 1811.33 L932.07 1812.82 L932.66 1814.28 L933.25 1815.69 L933.83 1817.03 L934.41 1818.35 L934.99 1819.64 L935.57 1820.89 L936.15 1822.12 L936.73 1823.31 L937.31 1824.48 L937.88 1825.61 L938.45 1826.72 L939.02 1827.79 L939.61 1828.83 L940.22 1829.85 L940.84 1830.83 L941.48 1831.78 L942.12 1832.71 L942.78 1833.6 L943.46 1834.46 L944.14 1835.29 L944.84 1836.11 L945.56 1836.9 L946.29 1837.66 L947.03 1838.38 L947.77 1839.05 L948.5 1839.65 L949.22 1840.18 L949.93 1840.64 L950.65 1841.05 L951.37 1841.42 L952.1 1841.75 L952.85 1842.05 L953.63 1842.31 L954.44 1842.52 L955.25 1842.69 L956.07 1842.84 L956.87 1842.98 L957.65 1843.14 L958.4 1843.28 L959.13 1843.4 L959.85 1843.5 L960.57 1843.63 L961.28 1843.79 L962 1844.01 L962.72 1844.28 L963.42 1844.6 L964.11 1844.95 L964.83 1845.33 L965.57 1845.75 L966.36 1846.19 L967.21 1846.67 L968.1 1847.21 L969.02 1847.78 L969.95 1848.36 L970.89 1848.92 L971.81 1849.46 L972.72 1849.94 L973.62 1850.4 L974.53 1850.84 L975.44 1851.3 L976.35 1851.77 L977.25 1852.29 L978.16 1852.84 L979.07 1853.42 L979.98 1854.02 L980.89 1854.64 L981.79 1855.3 L982.7 1855.99 L983.61 1856.72 L984.52 1857.48 L985.42 1858.28 L986.33 1859.1 L987.24 1859.94 L988.15 1860.78 L989.06 1861.66 L989.96 1862.56 L990.87 1863.48 L991.78 1864.41 L992.69 1865.33 L993.59 1866.23 L994.5 1867.12 L995.41 1868.01 L996.32 1868.89 L997.23 1869.76 L998.13 1870.62 L999.04 1871.46 L999.95 1872.3 L1000.86 1873.13 L1001.76 1873.95 L1002.67 1874.75 L1003.58 1875.52 L1004.49 1876.25 L1005.4 1876.95 L1006.3 1877.62 L1007.21 1878.25 L1008.12 1878.86 L1009.03 1879.43 L1009.93 1879.96 L1010.83 1880.44 L1011.71 1880.88 L1012.59 1881.29 L1013.49 1881.67 L1014.41 1882.02 L1015.38 1882.35 L1016.39 1882.65 L1017.44 1882.91 L1018.51 1883.14 L1019.62 1883.37 L1020.75 1883.61 L1021.92 1883.88 L1023.11 1884.18 L1024.34 1884.52 L1025.59 1884.86 L1026.88 1885.2 L1028.2 1885.53 L1029.54 1885.84 L1030.91 1886.12 L1032.29 1886.4 L1033.7 1886.66 L1035.15 1886.9 L1036.67 1887.14 L1038.26 1887.36 L1039.92 1887.58 L1041.65 1887.8 L1043.43 1888 L1045.28 1888.19 L1047.18 1888.34 L1049.15 1888.45 L1051.2 1888.52 L1053.35 1888.55 L1055.55 1888.55 L1057.78 1888.53 L1060.02 1888.49 L1062.22 1888.45 L1064.45 1888.4 L1066.74 1888.33 L1069.03 1888.25 L1071.26 1888.16 L1073.37 1888.08 L1075.29 1888.02 L1076.97 1887.96 L1078.44 1887.9 L1079.79 1887.84 L1081.1 1887.8 L1082.48 1887.78 L1084.01 1887.8 L1085.62 1887.86 L1087.24 1887.97 L1088.91 1888.1 L1090.71 1888.24 L1092.68 1888.36 L1094.9 1888.45 L1097.38 1888.52 L1100.07 1888.57 L1102.94 1888.62 L1105.96 1888.65 L1109.1 1888.66 L1112.33 1888.67 L1115.84 1888.66 L1119.67 1888.64 L1123.63 1888.6 L1127.5 1888.56 L1131.07 1888.51 L1134.12 1888.45 L1136.61 1888.39 L1138.72 1888.32 L1140.52 1888.24 L1142.11 1888.15 L1143.57 1888.08 L1145.01 1888.02 L1146.33 1887.96 L1147.43 1887.9 L1148.42 1887.85 L1149.37 1887.82 L1150.38 1887.8 L1151.55 1887.8 L1152.81 1887.83 L1154.09 1887.9 L1155.43 1887.98 L1156.87 1888.07 L1158.47 1888.16 L1160.26 1888.24 L1162.47 1888.31 L1165.1 1888.4 L1167.89 1888.48 L1170.55 1888.56 L1172.82 1888.62 L1174.42 1888.67" fill="none" stroke="#000" stroke-width="2.9" stroke-linejoin="round" stroke-linecap="round"/>
<line x1="924" y1="1659.9" x2="924" y2="1898.7" stroke="#EE0015" stroke-width="2.6" />
<rect x="865.7" y="1659.9" width="322" height="238.8" fill="none" stroke="#1A1A1A" stroke-width="1.8" rx="0" />
<line x1="904.5" y1="1898.7" x2="904.5" y2="1906.2" stroke="#222" stroke-width="2.6" />
<text x="904.5" y="1930.5" font-size="23.3" text-anchor="middle" fill="#4D4D4D" textLength="26.2" lengthAdjust="spacingAndGlyphs" stroke="#4D4D4D" stroke-width="0.47">0%</text>
<line x1="1002.3" y1="1898.7" x2="1002.3" y2="1906.2" stroke="#222" stroke-width="2.6" />
<text x="1002.3" y="1930.5" font-size="23.3" text-anchor="middle" fill="#4D4D4D" textLength="38.5" lengthAdjust="spacingAndGlyphs" stroke="#4D4D4D" stroke-width="0.47">40%</text>
<line x1="1100.1" y1="1898.7" x2="1100.1" y2="1906.2" stroke="#222" stroke-width="2.6" />
<text x="1100.1" y="1930.5" font-size="23.3" text-anchor="middle" fill="#4D4D4D" textLength="38" lengthAdjust="spacingAndGlyphs" stroke="#4D4D4D" stroke-width="0.47">80%</text>
<rect x="894" y="1674.7" width="60.4" height="39.7" fill="#fff" stroke="#000" stroke-width="1.5" rx="6.5" />
<text x="923.6" y="1704.3" font-size="26.3" text-anchor="middle">8%</text>
<text x="1026.4" y="1644.5" font-size="35.6" text-anchor="middle" textLength="88.3" lengthAdjust="spacingAndGlyphs" stroke="#000" stroke-width="0.5">Usage</text>
</g>
<text x="1656.5" y="276.4" font-size="35.6" text-anchor="middle" font-weight="bold" textLength="189.5" lengthAdjust="spacingAndGlyphs" stroke="#000" stroke-width="0.36">Wide Creator</text>
<circle cx="1656.8" cy="603.5" r="44.5" fill="none" stroke="#F4EEF2" stroke-width="4"/>
<circle cx="1656.8" cy="603.5" r="89" fill="none" stroke="#E9E7E9" stroke-width="4"/>
<circle cx="1656.8" cy="603.5" r="133.5" fill="none" stroke="#E9E7E9" stroke-width="4"/>
<circle cx="1656.8" cy="603.5" r="178" fill="none" stroke="#F7E8EB" stroke-width="4"/>
<line x1="1656.8" y1="404.5" x2="1656.8" y2="603.5" stroke="#D8D8D8" stroke-width="2.8" stroke-dasharray="10 10 13 12 24 14 12 14 20 12 12 12"/>
<line x1="1797.51" y1="462.79" x2="1656.8" y2="603.5" stroke="#D8D8D8" stroke-width="2.8" stroke-dasharray="10 10 13 12 24 14 12 14 20 12 12 12"/>
<line x1="1855.8" y1="603.5" x2="1656.8" y2="603.5" stroke="#D8D8D8" stroke-width="2.8" stroke-dasharray="10 10 13 12 24 14 12 14 20 12 12 12"/>
<line x1="1797.51" y1="744.21" x2="1656.8" y2="603.5" stroke="#D8D8D8" stroke-width="2.8" stroke-dasharray="10 10 13 12 24 14 12 14 20 12 12 12"/>
<line x1="1656.8" y1="802.5" x2="1656.8" y2="603.5" stroke="#D8D8D8" stroke-width="2.8" stroke-dasharray="10 10 13 12 24 14 12 14 20 12 12 12"/>
<line x1="1516.09" y1="744.21" x2="1656.8" y2="603.5" stroke="#D8D8D8" stroke-width="2.8" stroke-dasharray="10 10 13 12 24 14 12 14 20 12 12 12"/>
<line x1="1457.8" y1="603.5" x2="1656.8" y2="603.5" stroke="#D8D8D8" stroke-width="2.8" stroke-dasharray="10 10 13 12 24 14 12 14 20 12 12 12"/>
<line x1="1516.09" y1="462.79" x2="1656.8" y2="603.5" stroke="#D8D8D8" stroke-width="2.8" stroke-dasharray="10 10 13 12 24 14 12 14 20 12 12 12"/>
<path d="M1656.8 603.5 L1658.76 553.7 A49.84 49.84 0 0 1 1690.63 566.9 Z" fill="#A77CF0" stroke="#000" stroke-width="3.4" stroke-linejoin="miter" stroke-miterlimit="10"/>
<path d="M1656.8 603.5 L1713.01 551.54 A76.54 76.54 0 0 1 1733.28 600.5 Z" fill="#E6D6FB" stroke="#000" stroke-width="3.4" stroke-linejoin="miter" stroke-miterlimit="10"/>
<path d="M1656.8 603.5 L1763.52 607.69 A106.8 106.8 0 0 1 1735.23 676 Z" fill="#FCC9B9" stroke="#000" stroke-width="3.4" stroke-linejoin="miter" stroke-miterlimit="10"/>
<path d="M1656.8 603.5 L1726.88 679.31 A103.24 103.24 0 0 1 1660.85 706.66 Z" fill="#FCD1C4" stroke="#000" stroke-width="3.4" stroke-linejoin="miter" stroke-miterlimit="10"/>
<path d="M1656.8 603.5 L1651.42 740.45 A137.06 137.06 0 0 1 1563.76 704.15 Z" fill="#FB7F67" stroke="#000" stroke-width="3.4" stroke-linejoin="miter" stroke-miterlimit="10"/>
<path d="M1656.8 603.5 L1600.59 655.46 A76.54 76.54 0 0 1 1580.32 606.5 Z" fill="#E6D6FB" stroke="#000" stroke-width="3.4" stroke-linejoin="miter" stroke-miterlimit="10"/>
<path d="M1656.8 603.5 L1539.41 598.89 A117.48 117.48 0 0 1 1570.53 523.75 Z" fill="#FBB09D" stroke="#000" stroke-width="3.4" stroke-linejoin="miter" stroke-miterlimit="10"/>
<path d="M1656.8 603.5 L1546.85 484.55 A161.98 161.98 0 0 1 1650.44 441.64 Z" fill="#FB3D2C" stroke="#000" stroke-width="3.4" stroke-linejoin="miter" stroke-miterlimit="10"/>
<circle cx="1656.8" cy="603.5" r="44.5" fill="none" stroke="#EFE6EC" stroke-width="4" opacity="0.14"/>
<circle cx="1656.8" cy="603.5" r="89" fill="none" stroke="#EFEDEE" stroke-width="4" opacity="0.14"/>
<circle cx="1656.8" cy="603.5" r="133.5" fill="none" stroke="#EFEDEE" stroke-width="4" opacity="0.14"/>
<circle cx="1656.8" cy="603.5" r="178" fill="none" stroke="#F6E3E7" stroke-width="4" opacity="0.14"/>
<g transform="translate(1682.76 540.82) rotate(22.5)">
<text x="0" y="8.88" font-size="25.8" text-anchor="middle">28</text>
</g>
<g transform="translate(1748.64 381.77) rotate(22.5)">
<text x="0" y="8.88" font-size="25.8" text-anchor="middle">Shots</text>
</g>
<g transform="translate(1744.14 567.32) rotate(67.5)">
<text x="0" y="8.88" font-size="25.8" text-anchor="middle">43</text>
</g>
<g transform="translate(1878.53 511.66) rotate(67.5)">
<text x="0" y="8.88" font-size="25.8" text-anchor="middle">Creation</text>
</g>
<g transform="translate(1772.1 651.26) rotate(-67.5)">
<text x="0" y="8.88" font-size="25.8" text-anchor="middle">60</text>
</g>
<g transform="translate(1878.53 695.34) rotate(-67.5)">
<text x="0" y="8.88" font-size="25.8" text-anchor="middle">Carrying</text>
</g>
<g transform="translate(1703.2 715.51) rotate(-22.5)">
<text x="0" y="8.88" font-size="25.8" text-anchor="middle">58</text>
</g>
<g transform="translate(1748.64 825.23) rotate(-22.5)">
<text x="0" y="8.88" font-size="25.8" text-anchor="middle">Crossing</text>
</g>
<g transform="translate(1597.46 746.76) rotate(22.5)">
<text x="0" y="8.88" font-size="25.8" text-anchor="middle">77</text>
</g>
<g transform="translate(1564.96 825.23) rotate(22.5)">
<text x="0" y="-9.52" font-size="25.8" text-anchor="middle">Possession</text>
<text x="0" y="27.28" font-size="25.8" text-anchor="middle">Involvement</text>
</g>
<g transform="translate(1569.46 639.68) rotate(67.5)">
<text x="0" y="8.88" font-size="25.8" text-anchor="middle">43</text>
</g>
<g transform="translate(1435.07 695.34) rotate(67.5)">
<text x="0" y="-9.52" font-size="25.8" text-anchor="middle">Passing</text>
<text x="0" y="27.28" font-size="25.8" text-anchor="middle">Accuracy</text>
</g>
<g transform="translate(1531.63 551.65) rotate(-67.5)">
<text x="0" y="8.88" font-size="25.8" text-anchor="middle">66</text>
</g>
<g transform="translate(1435.07 511.66) rotate(-67.5)">
<text x="0" y="-9.52" font-size="25.8" text-anchor="middle">Long</text>
<text x="0" y="27.28" font-size="25.8" text-anchor="middle">Distribution</text>
</g>
<g transform="translate(1587.92 437.22) rotate(-22.5)">
<text x="0" y="8.88" font-size="25.8" text-anchor="middle">91</text>
</g>
<g transform="translate(1564.96 381.77) rotate(-22.5)">
<text x="0" y="-9.52" font-size="25.8" text-anchor="middle">Defensive</text>
<text x="0" y="27.28" font-size="25.8" text-anchor="middle">Action</text>
</g>
<line x1="1323" y1="998.1" x2="2036" y2="998.1" stroke="#C6C6C6" stroke-width="1.1" />
<line x1="1323" y1="1091.5" x2="2036" y2="1091.5" stroke="#C6C6C6" stroke-width="1.1" />
<line x1="1323" y1="1184.9" x2="2036" y2="1184.9" stroke="#C6C6C6" stroke-width="1.1" />
<line x1="1323" y1="1278.3" x2="2036" y2="1278.3" stroke="#C6C6C6" stroke-width="1.1" />
<text x="1310.8" y="1007" font-size="24.2" text-anchor="end" fill="#444">100</text>
<text x="1310.8" y="1100.4" font-size="24.2" text-anchor="end" fill="#444">75</text>
<text x="1310.8" y="1193.8" font-size="24.2" text-anchor="end" fill="#444">50</text>
<text x="1310.8" y="1287.2" font-size="24.2" text-anchor="end" fill="#444">25</text>
<text x="1310.8" y="1380.6" font-size="24.2" text-anchor="end" fill="#444">0</text>
<text x="1393.6" y="1402.7" font-size="24.2" text-anchor="middle" fill="#444">18-19</text>
<text x="1508.4" y="1402.7" font-size="24.2" text-anchor="middle" fill="#444">19-20</text>
<text x="1623" y="1402.7" font-size="24.2" text-anchor="middle" fill="#444">20-21</text>
<text x="1737.5" y="1402.7" font-size="24.2" text-anchor="middle" fill="#444">21-22</text>
<text x="1852.2" y="1402.7" font-size="24.2" text-anchor="middle" fill="#444">22-23</text>
<text x="1967" y="1402.7" font-size="24.2" text-anchor="middle" fill="#444">23-24</text>
<polyline points="1393.6,1065.35 1508.4,1128.86 1623,1069.08 1737.5,1013.04 1852.2,1001.84 1967,1020.52" fill="none" stroke="#000" stroke-width="6.8" stroke-linejoin="round" stroke-linecap="butt"/>
<circle cx="1393.6" cy="1065.35" r="8.1" fill="#000"/>
<circle cx="1508.4" cy="1128.86" r="8.1" fill="#000"/>
<circle cx="1623" cy="1069.08" r="8.1" fill="#000"/>
<circle cx="1737.5" cy="1013.04" r="8.1" fill="#000"/>
<circle cx="1852.2" cy="1001.84" r="8.1" fill="#000"/>
<circle cx="1967" cy="1020.52" r="8.1" fill="#000"/>
<line x1="1325" y1="1371.7" x2="2035.5" y2="1371.7" stroke="#000" stroke-width="3.2" />
<text x="1680" y="965.3" font-size="35.8" text-anchor="middle" textLength="338" lengthAdjust="spacingAndGlyphs" stroke="#000" stroke-width="0.5">Overall xPAR Percentile</text>
<line x1="1323" y1="1522.1" x2="2036" y2="1522.1" stroke="#C6C6C6" stroke-width="1.1" />
<line x1="1323" y1="1614.2" x2="2036" y2="1614.2" stroke="#C6C6C6" stroke-width="1.1" />
<line x1="1323" y1="1706.3" x2="2036" y2="1706.3" stroke="#C6C6C6" stroke-width="1.1" />
<line x1="1323" y1="1798.4" x2="2036" y2="1798.4" stroke="#C6C6C6" stroke-width="1.1" />
<text x="1310.8" y="1531" font-size="24.2" text-anchor="end" fill="#444">100</text>
<text x="1310.8" y="1623.1" font-size="24.2" text-anchor="end" fill="#444">75</text>
<text x="1310.8" y="1715.2" font-size="24.2" text-anchor="end" fill="#444">50</text>
<text x="1310.8" y="1807.3" font-size="24.2" text-anchor="end" fill="#444">25</text>
<text x="1310.8" y="1899.4" font-size="24.2" text-anchor="end" fill="#444">0</text>
<text x="1393.6" y="1921.5" font-size="24.2" text-anchor="middle" fill="#444">18-19</text>
<text x="1508.4" y="1921.5" font-size="24.2" text-anchor="middle" fill="#444">19-20</text>
<text x="1623" y="1921.5" font-size="24.2" text-anchor="middle" fill="#444">20-21</text>
<text x="1737.5" y="1921.5" font-size="24.2" text-anchor="middle" fill="#444">21-22</text>
<text x="1852.2" y="1921.5" font-size="24.2" text-anchor="middle" fill="#444">22-23</text>
<text x="1967" y="1921.5" font-size="24.2" text-anchor="middle" fill="#444">23-24</text>
<polyline points="1393.6,1743.14 1508.4,1779.98 1623,1665.78 1737.5,1536.84 1852.2,1540.52 1967,1551.57" fill="none" stroke="#0808E0" stroke-width="6.8" stroke-linejoin="round" stroke-linecap="butt"/>
<circle cx="1393.6" cy="1743.14" r="8.1" fill="#0808E0"/>
<circle cx="1508.4" cy="1779.98" r="8.1" fill="#0808E0"/>
<circle cx="1623" cy="1665.78" r="8.1" fill="#0808E0"/>
<circle cx="1737.5" cy="1536.84" r="8.1" fill="#0808E0"/>
<circle cx="1852.2" cy="1540.52" r="8.1" fill="#0808E0"/>
<circle cx="1967" cy="1551.57" r="8.1" fill="#0808E0"/>
<polyline points="1393.6,1573.68 1508.4,1577.36 1623,1558.94 1737.5,1529.47 1852.2,1525.78 1967,1555.26" fill="none" stroke="#EB0714" stroke-width="6.8" stroke-linejoin="round" stroke-linecap="butt"/>
<circle cx="1393.6" cy="1573.68" r="8.1" fill="#EB0714"/>
<circle cx="1508.4" cy="1577.36" r="8.1" fill="#EB0714"/>
<circle cx="1623" cy="1558.94" r="8.1" fill="#EB0714"/>
<circle cx="1737.5" cy="1529.47" r="8.1" fill="#EB0714"/>
<circle cx="1852.2" cy="1525.78" r="8.1" fill="#EB0714"/>
<circle cx="1967" cy="1555.26" r="8.1" fill="#EB0714"/>
<circle cx="1623" cy="1654.72" r="8.1" fill="#7DC3E8"/>
<circle cx="1967" cy="1595.78" r="8.1" fill="#7DC3E8"/>
<line x1="1325" y1="1890.5" x2="2035.5" y2="1890.5" stroke="#000" stroke-width="3.2" />
<text x="1391.1" y="1488.1" font-size="35.8" fill="#0A0AD6" textLength="114" lengthAdjust="spacingAndGlyphs" stroke="#0A0AD6" stroke-width="0.5">Offense</text>
<text x="1535.4" y="1488.1" font-size="35.8" textLength="31.5" lengthAdjust="spacingAndGlyphs" stroke="#000" stroke-width="0.5">vs</text>
<text x="1589.7" y="1488.1" font-size="35.8" fill="#E30613" textLength="118" lengthAdjust="spacingAndGlyphs" stroke="#E30613" stroke-width="0.5">Defense</text>
<text x="1734.2" y="1488.1" font-size="35.8" textLength="31.5" lengthAdjust="spacingAndGlyphs" stroke="#000" stroke-width="0.5">vs</text>
<text x="1788.5" y="1488.1" font-size="35.8" fill="#87C3E6" textLength="130" lengthAdjust="spacingAndGlyphs" stroke="#87C3E6" stroke-width="0.5">Finishing</text>
<text x="2567.8" y="291.3" font-size="35.8" text-anchor="middle" textLength="163.5" lengthAdjust="spacingAndGlyphs" stroke="#000" stroke-width="0.5">Style Trend</text>
<line x1="2151.5" y1="355.3" x2="2984.5" y2="355.3" stroke="#C6C6C6" stroke-width="1.1" />
<line x1="2151.5" y1="606.6" x2="2984.5" y2="606.6" stroke="#C6C6C6" stroke-width="1.1" />
<line x1="2151.5" y1="857.9" x2="2984.5" y2="857.9" stroke="#C6C6C6" stroke-width="1.1" />
<line x1="2151.5" y1="1109.2" x2="2984.5" y2="1109.2" stroke="#C6C6C6" stroke-width="1.1" />
<text x="2138" y="364.2" font-size="24.2" text-anchor="end" fill="#444">100</text>
<text x="2138" y="615.5" font-size="24.2" text-anchor="end" fill="#444">75</text>
<text x="2138" y="866.8" font-size="24.2" text-anchor="end" fill="#444">50</text>
<text x="2138" y="1118.1" font-size="24.2" text-anchor="end" fill="#444">25</text>
<text x="2138" y="1369.4" font-size="24.2" text-anchor="end" fill="#444">0</text>
<text x="2176.1" y="1396.8" font-size="24.2" text-anchor="middle" fill="#444">21-22</text>
<text x="2421.2" y="1396.8" font-size="24.2" text-anchor="middle" fill="#444">22-23</text>
<text x="2665.9" y="1396.8" font-size="24.2" text-anchor="middle" fill="#444">23-24</text>
<g opacity="0.09">
<polyline points="2176.1,1038.84 2421.2,1068.99 2665.9,1079.04" fill="none" stroke="#555555" stroke-width="6.8" stroke-linejoin="round"/>
</g>
<circle cx="2176.1" cy="1038.84" r="8.1" fill="#555555" opacity="0.085"/>
<circle cx="2421.2" cy="1068.99" r="8.1" fill="#555555" opacity="0.085"/>
<circle cx="2665.9" cy="1079.04" r="8.1" fill="#555555" opacity="0.085"/>
<g opacity="0.09">
<polyline points="2176.1,938.32 2421.2,918.21 2665.9,928.26" fill="none" stroke="#1B8E6E" stroke-width="6.8" stroke-linejoin="round"/>
</g>
<circle cx="2176.1" cy="938.32" r="8.1" fill="#1B8E6E" opacity="0.085"/>
<circle cx="2421.2" cy="918.21" r="8.1" fill="#1B8E6E" opacity="0.085"/>
<circle cx="2665.9" cy="928.26" r="8.1" fill="#1B8E6E" opacity="0.085"/>
<g opacity="0.09">
<polyline points="2176.1,878 2421.2,827.74 2665.9,777.48" fill="none" stroke="#D0521A" stroke-width="6.8" stroke-linejoin="round"/>
</g>
<circle cx="2176.1" cy="878" r="8.1" fill="#D0521A" opacity="0.085"/>
<circle cx="2421.2" cy="827.74" r="8.1" fill="#D0521A" opacity="0.085"/>
<circle cx="2665.9" cy="777.48" r="8.1" fill="#D0521A" opacity="0.085"/>
<g opacity="0.09">
<polyline points="2176.1,777.48 2421.2,707.12 2665.9,757.38" fill="none" stroke="#666666" stroke-width="6.8" stroke-linejoin="round"/>
</g>
<circle cx="2176.1" cy="777.48" r="8.1" fill="#666666" opacity="0.085"/>
<circle cx="2421.2" cy="707.12" r="8.1" fill="#666666" opacity="0.085"/>
<circle cx="2665.9" cy="757.38" r="8.1" fill="#666666" opacity="0.085"/>
<g opacity="0.09">
<polyline points="2176.1,797.59 2421.2,707.12 2665.9,697.07" fill="none" stroke="#5FA02A" stroke-width="6.8" stroke-linejoin="round"/>
</g>
<circle cx="2176.1" cy="797.59" r="8.1" fill="#5FA02A" opacity="0.085"/>
<circle cx="2421.2" cy="707.12" r="8.1" fill="#5FA02A" opacity="0.085"/>
<circle cx="2665.9" cy="697.07" r="8.1" fill="#5FA02A" opacity="0.085"/>
<g opacity="0.09">
<polyline points="2176.1,626.7 2421.2,586.5 2665.9,586.5" fill="none" stroke="#956628" stroke-width="6.8" stroke-linejoin="round"/>
</g>
<circle cx="2176.1" cy="626.7" r="8.1" fill="#956628" opacity="0.085"/>
<circle cx="2421.2" cy="586.5" r="8.1" fill="#956628" opacity="0.085"/>
<circle cx="2665.9" cy="586.5" r="8.1" fill="#956628" opacity="0.085"/>
<g opacity="0.09">
<polyline points="2176.1,475.92 2421.2,485.98 2665.9,445.77" fill="none" stroke="#625E9F" stroke-width="6.8" stroke-linejoin="round"/>
</g>
<circle cx="2176.1" cy="475.92" r="8.1" fill="#625E9F" opacity="0.085"/>
<circle cx="2421.2" cy="485.98" r="8.1" fill="#625E9F" opacity="0.085"/>
<circle cx="2665.9" cy="445.77" r="8.1" fill="#625E9F" opacity="0.085"/>
<g opacity="1">
<polyline points="2176.1,938.32 2421.2,797.59 2665.9,928.26" fill="none" stroke="#DC980F" stroke-width="6.8" stroke-linejoin="round"/>
</g>
<circle cx="2176.1" cy="938.32" r="8.1" fill="#DC980F" opacity="1"/>
<circle cx="2421.2" cy="797.59" r="8.1" fill="#DC980F" opacity="1"/>
<circle cx="2665.9" cy="928.26" r="8.1" fill="#DC980F" opacity="1"/>
<line x1="2151.5" y1="1360.5" x2="2984.5" y2="1360.5" stroke="#000" stroke-width="3.2" />
<line x1="2667.4" y1="1079.04" x2="2871" y2="1079.04" stroke="#555555" stroke-width="2.3" />
<rect x="2871" y="1061.3" width="80.6" height="36.5" fill="#fff" stroke="#555555" stroke-width="1.4" rx="6" />
<text x="2911.3" y="1088.55" font-size="23.8" text-anchor="middle" fill="#4C4C4C" stroke="#4C4C4C" stroke-width="0.3">Shots</text>
<line x1="2667.4" y1="928.26" x2="2856.3" y2="902.4" stroke="#1B8E6E" stroke-width="2.3" />
<rect x="2856.3" y="884.6" width="109.9" height="36.6" fill="#fff" stroke="#1B8E6E" stroke-width="1.4" rx="6" />
<text x="2911.25" y="911.9" font-size="23.8" text-anchor="middle" fill="#187F63" stroke="#187F63" stroke-width="0.3">Creation</text>
<line x1="2667.4" y1="777.48" x2="2854.3" y2="801.7" stroke="#D0521A" stroke-width="2.3" />
<rect x="2854.3" y="783.9" width="114" height="36.1" fill="#fff" stroke="#D0521A" stroke-width="1.4" rx="6" />
<text x="2911.3" y="810.95" font-size="23.8" text-anchor="middle" fill="#BB4917" stroke="#BB4917" stroke-width="0.3">Crossing</text>
<line x1="2667.4" y1="757.38" x2="2856.3" y2="744.9" stroke="#666666" stroke-width="2.3" />
<rect x="2856.3" y="727.1" width="109.9" height="36.2" fill="#fff" stroke="#666666" stroke-width="1.4" rx="6" />
<text x="2911.25" y="754.2" font-size="23.8" text-anchor="middle" fill="#5B5B5B" stroke="#5B5B5B" stroke-width="0.3">Carrying</text>
<line x1="2667.4" y1="697.07" x2="2776.6" y2="688.5" stroke="#5FA02A" stroke-width="2.3" />
<rect x="2776.6" y="670.3" width="198.4" height="36.2" fill="#fff" stroke="#5FA02A" stroke-width="1.4" rx="6" />
<text x="2875.8" y="697.4" font-size="23.8" text-anchor="middle" fill="#559025" stroke="#559025" stroke-width="0.3">Long Distribution</text>
<line x1="2667.4" y1="586.5" x2="2698.9" y2="586.5" stroke="#956628" stroke-width="2.3" />
<rect x="2698.9" y="568.8" width="276.1" height="36.2" fill="#fff" stroke="#956628" stroke-width="1.4" rx="6" />
<text x="2836.95" y="595.9" font-size="23.8" text-anchor="middle" fill="#865B24" stroke="#865B24" stroke-width="0.3">Possession Involvement</text>
<line x1="2667.4" y1="445.77" x2="2776.6" y2="445.77" stroke="#625E9F" stroke-width="2.3" />
<rect x="2776.6" y="427.7" width="198.4" height="36.6" fill="#fff" stroke="#625E9F" stroke-width="1.4" rx="6" />
<text x="2875.8" y="455" font-size="23.8" text-anchor="middle" fill="#58548F" stroke="#58548F" stroke-width="0.3">Defensive Action</text>
<line x1="2667.4" y1="928.26" x2="2766.1" y2="959.6" stroke="#DDA020" stroke-width="2.3" />
<rect x="2766.1" y="941.4" width="208.9" height="36.6" fill="#fff" stroke="#DDA020" stroke-width="1.4" rx="6" />
<text x="2870.55" y="968.7" font-size="23.8" text-anchor="middle" fill="#C6901C" stroke="#C6901C" stroke-width="0.3">Passing Accuracy</text>
<text x="2723.4" y="1484.1" font-size="35.8" text-anchor="middle" textLength="214" lengthAdjust="spacingAndGlyphs" stroke="#000" stroke-width="0.5">Similar Players</text>
<rect x="2487.3" y="1528.45" width="408.26" height="40.9" fill="#FA958C" stroke="#000" stroke-width="3.3" rx="0" />
<text x="2448.6" y="1543.6" font-size="26.6" text-anchor="end" textLength="157.5" lengthAdjust="spacingAndGlyphs" stroke="#000" stroke-width="0.53">Valentin Barco</text>
<text x="2448.6" y="1574.2" font-size="26.6" text-anchor="end" textLength="109" lengthAdjust="spacingAndGlyphs" stroke="#000" stroke-width="0.53">(Brighton)</text>
<rect x="2858.31" y="1532.5" width="76.51" height="33.4" fill="#fff" stroke="#000" stroke-width="1.4" rx="5.5" />
<text x="2895.06" y="1557.1" font-size="19.4" text-anchor="middle">94.9%</text>
<rect x="2487.3" y="1612.9" width="404.39" height="40.9" fill="#FA958C" stroke="#000" stroke-width="3.3" rx="0" />
<text x="2448.6" y="1628.05" font-size="26.6" text-anchor="end" textLength="116" lengthAdjust="spacingAndGlyphs" stroke="#000" stroke-width="0.53">Vanderson</text>
<text x="2448.6" y="1658.65" font-size="26.6" text-anchor="end" textLength="104.5" lengthAdjust="spacingAndGlyphs" stroke="#000" stroke-width="0.53">(Monaco)</text>
<rect x="2862.52" y="1616.95" width="60.33" height="33.4" fill="#fff" stroke="#000" stroke-width="1.4" rx="5.5" />
<text x="2891.19" y="1641.55" font-size="19.4" text-anchor="middle">94%</text>
<rect x="2487.3" y="1697.35" width="404.39" height="40.9" fill="#FA958C" stroke="#000" stroke-width="3.3" rx="0" />
<text x="2448.6" y="1712.5" font-size="26.6" text-anchor="end" textLength="112" lengthAdjust="spacingAndGlyphs" stroke="#000" stroke-width="0.53">Javi Galan</text>
<text x="2448.6" y="1743.1" font-size="26.6" text-anchor="end" textLength="351" lengthAdjust="spacingAndGlyphs" stroke="#000" stroke-width="0.53">(Atletico Madrid, Real Sociedad)</text>
<rect x="2862.52" y="1701.4" width="60.33" height="33.4" fill="#fff" stroke="#000" stroke-width="1.4" rx="5.5" />
<text x="2891.19" y="1726" font-size="19.4" text-anchor="middle">94%</text>
<rect x="2487.3" y="1781.8" width="403.96" height="40.9" fill="#FA958C" stroke="#000" stroke-width="3.3" rx="0" />
<text x="2448.6" y="1796.95" font-size="26.6" text-anchor="end" textLength="152.5" lengthAdjust="spacingAndGlyphs" stroke="#000" stroke-width="0.53">Bradley Locko</text>
<text x="2448.6" y="1827.55" font-size="26.6" text-anchor="end" textLength="73.5" lengthAdjust="spacingAndGlyphs" stroke="#000" stroke-width="0.53">(Brest)</text>
<rect x="2854" y="1785.85" width="76.51" height="33.4" fill="#fff" stroke="#000" stroke-width="1.4" rx="5.5" />
<text x="2890.76" y="1810.45" font-size="19.4" text-anchor="middle">93.9%</text>
<rect x="2487.3" y="1866.25" width="400.95" height="40.9" fill="#FA958C" stroke="#000" stroke-width="3.3" rx="0" />
<text x="2448.6" y="1881.4" font-size="26.6" text-anchor="end" textLength="165" lengthAdjust="spacingAndGlyphs" stroke="#000" stroke-width="0.53">Joakim Maehle</text>
<text x="2448.6" y="1912" font-size="26.6" text-anchor="end" textLength="127.5" lengthAdjust="spacingAndGlyphs" stroke="#000" stroke-width="0.53">(Wolfsburg)</text>
<rect x="2850.99" y="1870.3" width="76.51" height="33.4" fill="#fff" stroke="#000" stroke-width="1.4" rx="5.5" />
<text x="2887.75" y="1894.9" font-size="19.4" text-anchor="middle">93.2%</text>
<text x="59.5" y="1990" font-size="25.6" font-style="italic" textLength="356.5" lengthAdjust="spacingAndGlyphs" stroke="#000" stroke-width="0.51">Source: Understat, Opta via FBref</text>
<text x="59.5" y="2029.95" font-size="25.6" font-style="italic" textLength="2892.5" lengthAdjust="spacingAndGlyphs" stroke="#000" stroke-width="0.51">Notes: Created by @macro_football on 2024-06-01. All percentiles and metrics are relative to all players in the top 5 European leagues. Overall is the player's expected points above replacement (xPAR) percentile. Offense and Defense Impact percentiles and Z-Scores are</text>
<text x="59.5" y="2069.9" font-size="25.6" font-style="italic" textLength="2876.5" lengthAdjust="spacingAndGlyphs" stroke="#000" stroke-width="0.51">the player's isolated impact on xGF and xGA (or GF and GA) per 90, controlling for teammates, opposition players, managers, score, situation, etc..., scaled relative to European Top 5 League average. Finishing (or Saving) Impact percentiles and Z-Scores are the player's</text>
<text x="59.5" y="2109.85" font-size="25.6" font-style="italic" textLength="2903" lengthAdjust="spacingAndGlyphs" stroke="#000" stroke-width="0.51">impact on shot xG, relative to European Top 5 League average. Shot (or xG) Share is the share of the team's shots (or xG) that the player takes when on the field. Usage is the share of the team's xG that the player is responsible for when on the field via either shots or shot</text>
<text x="59.5" y="2149.8" font-size="25.6" font-style="italic" textLength="2900.5" lengthAdjust="spacingAndGlyphs" stroke="#000" stroke-width="0.51">assists. Individual characteristics (i.e. dribbling and creating) are based on a dimensionality reduction of each player's micro-statistics (i.e. short pass attempts and interceptions). Player types (i.e. ball-playing defender) are based on a clustering analysis of every player's</text>
<text x="59.5" y="2189.75" font-size="25.6" font-style="italic" textLength="997" lengthAdjust="spacingAndGlyphs" stroke="#000" stroke-width="0.51">individual characteristics. Player similarity scores are based on the same clustering analysis.</text>
</svg></body></html>
